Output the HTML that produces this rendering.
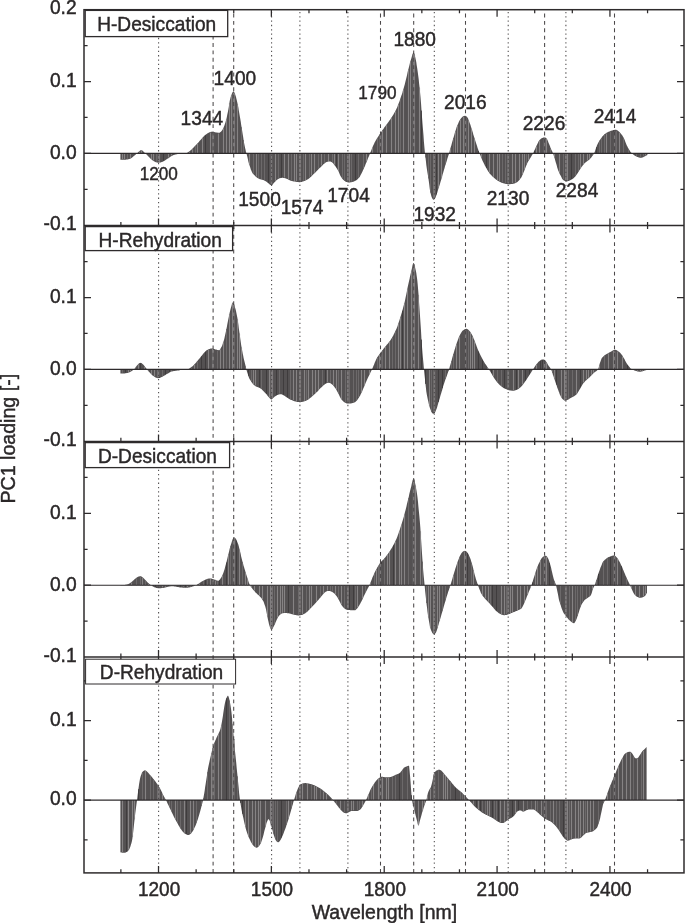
<!DOCTYPE html>
<html lang="en"><head><meta charset="utf-8"><title>PC1 loading</title>
<style>html,body{margin:0;padding:0;background:#fff}svg{display:block}text{stroke:#2b2829;stroke-width:.45px}</style></head>
<body>
<svg width="685" height="923" viewBox="0 0 685 923" font-family="'Liberation Sans', sans-serif" fill="#2b2829">
<rect width="685" height="923" fill="#fff"/>
<path d="M120.4 153.4L120.4 159.8L120.9 159.8L121.4 159.8L121.8 159.8L122.3 159.8L122.8 159.8L123.3 159.8L123.8 159.8L124.2 159.7L124.7 159.7L125.2 159.7L125.7 159.7L126.2 159.6L126.6 159.5L127.1 159.5L127.6 159.4L128.1 159.3L128.6 159.2L129.0 159.1L129.5 158.9L130.0 158.8L130.5 158.6L130.9 158.4L131.4 158.0L131.9 157.7L132.4 157.3L132.9 156.9L133.3 156.4L133.8 156.0L134.3 155.7L134.8 155.3L135.3 154.9L135.7 154.5L136.2 154.0L136.7 153.6L137.2 153.2L137.7 152.8L138.1 152.3L138.6 151.8L139.1 151.4L139.6 150.9L140.1 150.6L140.5 150.3L141.0 150.2L141.5 150.2L142.0 150.4L142.5 150.6L142.9 151.0L143.4 151.4L143.9 151.9L144.4 152.4L144.9 152.9L145.3 153.3L145.8 153.8L146.3 154.3L146.8 154.8L147.3 155.3L147.7 155.8L148.2 156.3L148.7 156.8L149.2 157.3L149.7 157.8L150.1 158.2L150.6 158.7L151.1 159.1L151.6 159.5L152.0 159.9L152.5 160.3L153.0 160.7L153.5 161.0L154.0 161.3L154.4 161.5L154.9 161.8L155.4 162.0L155.9 162.2L156.4 162.3L156.8 162.5L157.3 162.6L157.8 162.7L158.3 162.7L158.8 162.7L159.2 162.6L159.7 162.6L160.2 162.5L160.7 162.4L161.2 162.2L161.6 162.1L162.1 161.9L162.6 161.7L163.1 161.5L163.6 161.3L164.0 161.0L164.5 160.7L165.0 160.4L165.5 160.1L166.0 159.8L166.4 159.5L166.9 159.1L167.4 158.8L167.9 158.5L168.4 158.2L168.8 157.9L169.3 157.5L169.8 157.2L170.3 156.8L170.8 156.5L171.2 156.2L171.7 155.9L172.2 155.7L172.7 155.5L173.1 155.3L173.6 155.1L174.1 154.9L174.6 154.8L175.1 154.6L175.5 154.5L176.0 154.4L176.5 154.3L177.0 154.2L177.5 154.1L177.9 154.1L178.4 154.0L178.9 153.9L179.4 153.9L179.9 153.8L180.3 153.8L180.8 153.7L181.3 153.7L181.8 153.6L182.3 153.6L182.7 153.5L183.2 153.5L183.7 153.5L184.2 153.5L184.7 153.5L185.1 153.4L185.6 153.4L186.1 153.3L186.6 153.1L187.1 152.9L187.5 152.6L188.0 152.3L188.5 151.9L189.0 151.6L189.5 151.2L189.9 150.9L190.4 150.5L190.9 150.1L191.4 149.7L191.8 149.2L192.3 148.8L192.8 148.3L193.3 147.8L193.8 147.3L194.2 146.8L194.7 146.3L195.2 145.8L195.7 145.3L196.2 144.7L196.6 144.2L197.1 143.7L197.6 143.2L198.1 142.7L198.6 142.2L199.0 141.7L199.5 141.1L200.0 140.6L200.5 140.0L201.0 139.5L201.4 138.9L201.9 138.4L202.4 137.8L202.9 137.3L203.4 136.8L203.8 136.3L204.3 135.8L204.8 135.3L205.3 134.9L205.8 134.6L206.2 134.2L206.7 133.9L207.2 133.6L207.7 133.3L208.2 133.0L208.6 132.7L209.1 132.5L209.6 132.2L210.1 132.1L210.6 131.9L211.0 131.8L211.5 131.8L212.0 131.8L212.5 131.8L212.9 131.9L213.4 132.0L213.9 132.1L214.4 132.1L214.9 132.2L215.3 132.3L215.8 132.4L216.3 132.4L216.8 132.5L217.3 132.6L217.7 132.7L218.2 132.7L218.7 132.8L219.2 132.8L219.7 132.7L220.1 132.3L220.6 131.9L221.1 131.4L221.6 130.9L222.1 130.3L222.5 129.7L223.0 128.8L223.5 127.7L224.0 126.6L224.5 125.3L224.9 124.0L225.4 122.5L225.9 120.8L226.4 118.9L226.9 116.8L227.3 114.6L227.8 112.3L228.3 109.8L228.8 106.9L229.3 103.8L229.7 101.1L230.2 98.9L230.7 97.1L231.2 95.5L231.7 94.2L232.1 93.1L232.6 92.3L233.1 91.6L233.6 91.4L234.0 91.8L234.5 92.7L235.0 94.0L235.5 95.4L236.0 96.9L236.4 98.7L236.9 100.7L237.4 102.9L237.9 105.2L238.4 107.7L238.8 110.4L239.3 113.3L239.8 116.2L240.3 119.1L240.8 122.1L241.2 125.0L241.7 128.0L242.2 131.1L242.7 134.2L243.2 137.3L243.6 140.3L244.1 143.0L244.6 145.5L245.1 147.9L245.6 150.0L246.0 151.9L246.5 153.5L247.0 155.4L247.5 157.5L248.0 159.7L248.4 161.7L248.9 163.5L249.4 165.1L249.9 166.6L250.4 168.0L250.8 169.4L251.3 170.6L251.8 171.8L252.3 172.7L252.7 173.5L253.2 174.1L253.7 174.6L254.2 175.1L254.7 175.6L255.1 176.0L255.6 176.5L256.1 176.9L256.6 177.3L257.1 177.7L257.5 178.0L258.0 178.3L258.5 178.6L259.0 178.8L259.5 179.0L259.9 179.2L260.4 179.3L260.9 179.4L261.4 179.6L261.9 179.7L262.3 179.8L262.8 179.9L263.3 180.1L263.8 180.2L264.3 180.4L264.7 180.7L265.2 180.9L265.7 181.2L266.2 181.6L266.7 182.0L267.1 182.3L267.6 182.7L268.1 183.1L268.6 183.5L269.1 183.9L269.5 184.3L270.0 184.7L270.5 185.1L271.0 185.3L271.5 185.4L271.9 185.2L272.4 184.8L272.9 184.2L273.4 183.6L273.8 183.1L274.3 182.6L274.8 182.0L275.3 181.5L275.8 181.0L276.2 180.5L276.7 180.0L277.2 179.7L277.7 179.3L278.2 179.0L278.6 178.7L279.1 178.5L279.6 178.3L280.1 178.2L280.6 178.1L281.0 178.0L281.5 177.9L282.0 177.8L282.5 177.8L283.0 177.8L283.4 177.9L283.9 177.9L284.4 178.1L284.9 178.2L285.4 178.3L285.8 178.5L286.3 178.7L286.8 178.8L287.3 179.0L287.8 179.2L288.2 179.5L288.7 179.7L289.2 180.0L289.7 180.3L290.2 180.5L290.6 180.7L291.1 180.8L291.6 181.0L292.1 181.1L292.6 181.2L293.0 181.3L293.5 181.4L294.0 181.5L294.5 181.6L294.9 181.6L295.4 181.7L295.9 181.8L296.4 181.9L296.9 181.9L297.3 182.0L297.8 182.1L298.3 182.1L298.8 182.2L299.3 182.2L299.7 182.2L300.2 182.2L300.7 182.1L301.2 182.0L301.7 181.9L302.1 181.7L302.6 181.5L303.1 181.4L303.6 181.2L304.1 181.1L304.5 180.9L305.0 180.7L305.5 180.5L306.0 180.3L306.5 180.1L306.9 179.8L307.4 179.6L307.9 179.3L308.4 178.9L308.9 178.6L309.3 178.2L309.8 177.8L310.3 177.3L310.8 176.9L311.3 176.5L311.7 176.0L312.2 175.5L312.7 175.1L313.2 174.6L313.6 174.1L314.1 173.6L314.6 173.2L315.1 172.7L315.6 172.3L316.0 171.8L316.5 171.3L317.0 170.8L317.5 170.3L318.0 169.8L318.4 169.3L318.9 168.8L319.4 168.3L319.9 167.8L320.4 167.4L320.8 166.9L321.3 166.4L321.8 165.9L322.3 165.5L322.8 165.0L323.2 164.6L323.7 164.1L324.2 163.7L324.7 163.3L325.2 162.9L325.6 162.6L326.1 162.3L326.6 162.1L327.1 161.9L327.6 161.7L328.0 161.6L328.5 161.5L329.0 161.4L329.5 161.4L330.0 161.5L330.4 161.6L330.9 161.8L331.4 162.1L331.9 162.3L332.4 162.6L332.8 163.1L333.3 163.6L333.8 164.2L334.3 164.8L334.7 165.5L335.2 166.1L335.7 166.8L336.2 167.4L336.7 168.2L337.1 168.9L337.6 169.7L338.1 170.6L338.6 171.6L339.1 172.7L339.5 173.8L340.0 174.9L340.5 175.9L341.0 176.8L341.5 177.5L341.9 178.2L342.4 178.8L342.9 179.4L343.4 179.9L343.9 180.3L344.3 180.7L344.8 181.0L345.3 181.4L345.8 181.7L346.3 182.0L346.7 182.1L347.2 182.2L347.7 182.3L348.2 182.4L348.7 182.4L349.1 182.4L349.6 182.4L350.1 182.4L350.6 182.3L351.1 182.3L351.5 182.2L352.0 182.0L352.5 181.9L353.0 181.8L353.5 181.7L353.9 181.5L354.4 181.3L354.9 181.0L355.4 180.7L355.8 180.5L356.3 180.2L356.8 179.9L357.3 179.5L357.8 179.1L358.2 178.6L358.7 178.1L359.2 177.5L359.7 176.9L360.2 176.0L360.6 175.1L361.1 174.2L361.6 173.2L362.1 172.2L362.6 171.3L363.0 170.2L363.5 169.2L364.0 168.1L364.5 167.0L365.0 165.9L365.4 164.8L365.9 163.6L366.4 162.4L366.9 161.2L367.4 160.0L367.8 158.8L368.3 157.6L368.8 156.4L369.3 155.2L369.8 154.0L370.2 152.8L370.7 151.7L371.2 150.5L371.7 149.3L372.2 148.1L372.6 147.0L373.1 145.8L373.6 144.7L374.1 143.7L374.5 142.7L375.0 141.7L375.5 140.9L376.0 140.0L376.5 139.2L376.9 138.4L377.4 137.7L377.9 136.9L378.4 136.2L378.9 135.5L379.3 134.8L379.8 134.1L380.3 133.3L380.8 132.6L381.3 131.9L381.7 131.2L382.2 130.5L382.7 129.8L383.2 129.2L383.7 128.5L384.1 127.8L384.6 127.1L385.1 126.5L385.6 125.8L386.1 125.2L386.5 124.6L387.0 123.9L387.5 123.3L388.0 122.6L388.5 122.0L388.9 121.3L389.4 120.6L389.9 120.0L390.4 119.3L390.9 118.5L391.3 117.8L391.8 117.1L392.3 116.3L392.8 115.6L393.3 114.8L393.7 114.0L394.2 113.1L394.7 112.3L395.2 111.4L395.6 110.5L396.1 109.5L396.6 108.5L397.1 107.5L397.6 106.3L398.0 105.1L398.5 103.8L399.0 102.5L399.5 101.2L400.0 99.8L400.4 98.4L400.9 97.0L401.4 95.6L401.9 94.2L402.4 92.7L402.8 91.1L403.3 89.5L403.8 87.8L404.3 86.1L404.8 84.3L405.2 82.5L405.7 80.5L406.2 78.5L406.7 76.4L407.2 74.3L407.6 72.3L408.1 70.3L408.6 68.4L409.1 66.5L409.6 64.6L410.0 62.8L410.5 61.1L411.0 59.4L411.5 57.8L412.0 56.1L412.4 54.6L412.9 53.3L413.4 52.5L413.9 52.5L414.3 53.6L414.8 55.5L415.3 57.6L415.8 59.7L416.3 62.3L416.7 65.2L417.2 68.3L417.7 71.7L418.2 75.4L418.7 79.3L419.1 83.5L419.6 88.1L420.1 92.9L420.6 98.3L421.1 104.3L421.5 110.6L422.0 117.1L422.5 123.5L423.0 129.6L423.5 135.5L423.9 141.5L424.4 147.2L424.9 152.4L425.4 156.9L425.9 161.1L426.3 164.9L426.8 168.5L427.3 171.8L427.8 174.7L428.3 177.6L428.7 180.6L429.2 184.2L429.7 188.6L430.2 191.7L430.7 193.7L431.1 195.3L431.6 196.9L432.1 198.1L432.6 199.0L433.1 199.5L433.5 199.8L434.0 199.6L434.5 199.2L435.0 198.6L435.4 197.7L435.9 196.6L436.4 195.3L436.9 193.8L437.4 192.3L437.8 190.7L438.3 189.1L438.8 187.6L439.3 186.0L439.8 184.5L440.2 182.9L440.7 181.3L441.2 179.7L441.7 178.0L442.2 176.3L442.6 174.6L443.1 172.9L443.6 171.2L444.1 169.5L444.6 167.9L445.0 166.3L445.5 164.8L446.0 163.2L446.5 161.7L447.0 160.1L447.4 158.6L447.9 157.0L448.4 155.4L448.9 153.8L449.4 152.2L449.8 150.5L450.3 148.8L450.8 147.1L451.3 145.4L451.8 143.6L452.2 141.9L452.7 140.2L453.2 138.5L453.7 136.9L454.2 135.3L454.6 133.7L455.1 132.1L455.6 130.5L456.1 129.0L456.5 127.6L457.0 126.3L457.5 125.1L458.0 123.9L458.5 122.7L458.9 121.7L459.4 120.7L459.9 119.9L460.4 119.2L460.9 118.6L461.3 117.9L461.8 117.4L462.3 116.9L462.8 116.5L463.3 116.3L463.7 116.1L464.2 115.9L464.7 115.8L465.2 115.8L465.7 115.9L466.1 116.2L466.6 116.6L467.1 117.0L467.6 117.7L468.1 118.6L468.5 119.8L469.0 121.0L469.5 122.4L470.0 123.7L470.5 125.1L470.9 126.5L471.4 128.0L471.9 129.6L472.4 131.2L472.9 132.8L473.3 134.4L473.8 136.0L474.3 137.6L474.8 139.1L475.2 140.6L475.7 142.0L476.2 143.5L476.7 145.0L477.2 146.5L477.6 147.9L478.1 149.3L478.6 150.7L479.1 152.0L479.6 153.3L480.0 154.6L480.5 155.8L481.0 157.0L481.5 158.2L482.0 159.4L482.4 160.5L482.9 161.6L483.4 162.6L483.9 163.6L484.4 164.5L484.8 165.4L485.3 166.3L485.8 167.3L486.3 168.1L486.8 169.0L487.2 169.8L487.7 170.6L488.2 171.4L488.7 172.1L489.2 172.8L489.6 173.4L490.1 173.9L490.6 174.4L491.1 175.0L491.6 175.5L492.0 175.9L492.5 176.4L493.0 176.9L493.5 177.3L494.0 177.8L494.4 178.2L494.9 178.6L495.4 179.0L495.9 179.4L496.3 179.7L496.8 180.1L497.3 180.4L497.8 180.7L498.3 181.0L498.7 181.2L499.2 181.5L499.7 181.8L500.2 182.0L500.7 182.3L501.1 182.5L501.6 182.7L502.1 182.9L502.6 183.1L503.1 183.2L503.5 183.3L504.0 183.5L504.5 183.6L505.0 183.7L505.5 183.8L505.9 183.9L506.4 184.0L506.9 184.1L507.4 184.2L507.9 184.2L508.3 184.2L508.8 184.2L509.3 184.2L509.8 184.2L510.3 184.2L510.7 184.1L511.2 184.1L511.7 184.0L512.2 184.0L512.7 183.9L513.1 183.8L513.6 183.7L514.1 183.5L514.6 183.4L515.1 183.2L515.5 183.0L516.0 182.8L516.5 182.6L517.0 182.3L517.4 181.9L517.9 181.5L518.4 181.0L518.9 180.5L519.4 179.9L519.8 179.3L520.3 178.7L520.8 178.1L521.3 177.4L521.8 176.5L522.2 175.5L522.7 174.4L523.2 173.3L523.7 172.1L524.2 171.0L524.6 169.8L525.1 168.5L525.6 167.2L526.1 166.0L526.6 164.8L527.0 163.7L527.5 162.8L528.0 161.8L528.5 161.0L529.0 160.2L529.4 159.4L529.9 158.6L530.4 157.9L530.9 157.1L531.4 156.3L531.8 155.5L532.3 154.7L532.8 153.8L533.3 152.9L533.8 151.8L534.2 150.8L534.7 149.7L535.2 148.7L535.7 147.6L536.1 146.6L536.6 145.5L537.1 144.4L537.6 143.4L538.1 142.4L538.5 141.5L539.0 140.8L539.5 140.2L540.0 139.6L540.5 139.2L540.9 138.8L541.4 138.4L541.9 138.1L542.4 137.9L542.9 137.8L543.3 137.6L543.8 137.5L544.3 137.4L544.8 137.4L545.3 137.6L545.7 137.8L546.2 138.2L546.7 138.6L547.2 139.4L547.7 140.4L548.1 141.6L548.6 142.9L549.1 144.0L549.6 145.2L550.1 146.5L550.5 147.7L551.0 148.9L551.5 150.0L552.0 151.0L552.5 152.1L552.9 153.2L553.4 154.6L553.9 156.0L554.4 157.6L554.9 159.2L555.3 160.8L555.8 162.4L556.3 164.1L556.8 165.8L557.2 167.5L557.7 169.0L558.2 170.4L558.7 171.6L559.2 172.7L559.6 173.7L560.1 174.7L560.6 175.6L561.1 176.6L561.6 177.6L562.0 178.5L562.5 179.3L563.0 179.8L563.5 180.2L564.0 180.5L564.4 180.8L564.9 181.1L565.4 181.2L565.9 181.4L566.4 181.4L566.8 181.4L567.3 181.3L567.8 181.2L568.3 181.0L568.8 180.9L569.2 180.7L569.7 180.5L570.2 180.3L570.7 180.1L571.2 179.8L571.6 179.5L572.1 179.2L572.6 178.9L573.1 178.5L573.6 178.2L574.0 177.8L574.5 177.3L575.0 176.8L575.5 176.2L576.0 175.6L576.4 174.9L576.9 174.2L577.4 173.6L577.9 172.9L578.3 172.1L578.8 171.3L579.3 170.5L579.8 169.7L580.3 168.9L580.7 168.2L581.2 167.5L581.7 166.8L582.2 166.2L582.7 165.6L583.1 165.0L583.6 164.4L584.1 163.8L584.6 163.3L585.1 162.8L585.5 162.4L586.0 162.0L586.5 161.7L587.0 161.3L587.5 161.0L587.9 160.7L588.4 160.3L588.9 159.9L589.4 159.4L589.9 159.0L590.3 158.5L590.8 157.9L591.3 157.4L591.8 156.8L592.3 156.1L592.7 155.4L593.2 154.7L593.7 153.9L594.2 153.1L594.7 152.0L595.1 150.7L595.6 149.2L596.1 147.8L596.6 146.4L597.0 145.3L597.5 144.3L598.0 143.3L598.5 142.3L599.0 141.5L599.4 140.6L599.9 139.9L600.4 139.2L600.9 138.5L601.4 137.9L601.8 137.2L602.3 136.5L602.8 135.9L603.3 135.4L603.8 134.9L604.2 134.4L604.7 134.0L605.2 133.7L605.7 133.4L606.2 133.1L606.6 132.8L607.1 132.5L607.6 132.3L608.1 132.0L608.6 131.8L609.0 131.6L609.5 131.4L610.0 131.2L610.5 131.0L611.0 130.8L611.4 130.7L611.9 130.5L612.4 130.4L612.9 130.2L613.4 130.1L613.8 130.0L614.3 129.9L614.8 129.8L615.3 129.8L615.8 129.8L616.2 129.8L616.7 130.0L617.2 130.2L617.7 130.5L618.1 130.9L618.6 131.3L619.1 131.8L619.6 132.3L620.1 132.8L620.5 133.3L621.0 133.8L621.5 134.4L622.0 135.0L622.5 135.7L622.9 136.5L623.4 137.3L623.9 138.2L624.4 139.2L624.9 140.4L625.3 141.7L625.8 143.0L626.3 144.2L626.8 145.4L627.3 146.3L627.7 147.2L628.2 148.1L628.7 148.9L629.2 149.7L629.7 150.5L630.1 151.2L630.6 151.9L631.1 152.5L631.6 153.0L632.1 153.4L632.5 153.9L633.0 154.3L633.5 154.7L634.0 155.0L634.5 155.4L634.9 155.7L635.4 156.0L635.9 156.3L636.4 156.5L636.9 156.7L637.3 156.9L637.8 157.1L638.3 157.3L638.8 157.5L639.2 157.6L639.7 157.7L640.2 157.8L640.7 157.8L641.2 157.8L641.6 157.7L642.1 157.6L642.6 157.4L643.1 157.2L643.6 157.0L644.0 156.8L644.5 156.6L645.0 156.3L645.5 156.1L646.0 155.8L646.4 155.6L646.9 155.2L647.4 154.9L647.4 153.4Z" fill="#545152"/>
<path d="M122.5 153.4V159.2M124.5 153.4V159.1M130.5 153.4V158.0M135.5 153.4V154.1M139.5 153.4V151.6M141.5 153.4V150.8M151.5 153.4V158.9M153.5 153.4V160.4M159.5 153.4V162.0M168.5 153.4V157.5M171.5 153.4V155.5M174.5 153.4V154.2M189.5 153.4V151.8M192.5 153.4V149.2M197.5 153.4V143.9M202.5 153.4V138.3M210.5 153.4V132.5M213.5 153.4V132.6M218.5 153.4V133.4M223.5 153.4V128.3M226.5 153.4V119.0M229.5 153.4V102.9M231.5 153.4V95.1M234.5 153.4V93.3M237.5 153.4V104.0M249.5 153.4V164.8M256.5 153.4V176.6M275.5 153.4V180.7M284.5 153.4V177.5M288.5 153.4V179.0M294.5 153.4V181.0M296.5 153.4V181.3M300.5 153.4V181.6M305.5 153.4V179.9M311.5 153.4V175.6M314.5 153.4V172.7M321.5 153.4V165.6M328.5 153.4V160.9M334.5 153.4V164.5M338.5 153.4V170.8M349.5 153.4V181.8M366.5 153.4V161.6M369.5 153.4V154.0M372.5 153.4V147.9M382.5 153.4V130.7M386.5 153.4V125.2M391.5 153.4V118.2M395.5 153.4V111.4M398.5 153.4V104.5M403.5 153.4V89.5M408.5 153.4V69.4M410.5 153.4V61.7M414.5 153.4V54.7M419.5 153.4V87.5M438.5 153.4V188.0M441.5 153.4V178.1M450.5 153.4V148.7M455.5 153.4V131.4M457.5 153.4V125.7M460.5 153.4V119.7M463.5 153.4V116.8M468.5 153.4V120.3M471.5 153.4V128.9M474.5 153.4V138.8M481.5 153.4V157.7M489.5 153.4V172.6M493.5 153.4V176.8M497.5 153.4V179.9M499.5 153.4V181.1M512.5 153.4V183.3M515.5 153.4V182.4M519.5 153.4V179.2M522.5 153.4V174.4M524.5 153.4V169.6M528.5 153.4V160.4M536.5 153.4V146.4M539.5 153.4V140.8M546.5 153.4V139.0M554.5 153.4V157.4M559.5 153.4V172.8M567.5 153.4V180.6M580.5 153.4V167.9M583.5 153.4V163.9M587.5 153.4V160.4M589.5 153.4V158.7M606.5 153.4V133.5M619.5 153.4V132.8M645.5 153.4V155.5" stroke="#868384" stroke-width="1.1" fill="none"/>
<path d="M127.5 153.4V158.8M156.5 153.4V161.8M195.5 153.4V146.1M241.5 153.4V127.3M243.5 153.4V140.1M253.5 153.4V173.8M258.5 153.4V178.0M261.5 153.4V179.0M264.5 153.4V179.9M278.5 153.4V178.2M291.5 153.4V180.3M303.5 153.4V180.6M309.5 153.4V177.4M318.5 153.4V168.7M324.5 153.4V162.9M332.5 153.4V162.2M342.5 153.4V178.3M344.5 153.4V180.2M347.5 153.4V181.7M351.5 153.4V181.6M358.5 153.4V177.8M363.5 153.4V168.6M377.5 153.4V138.2M380.5 153.4V133.7M400.5 153.4V98.9M425.5 153.4V157.4M428.5 153.4V178.4M430.5 153.4V192.5M433.5 153.4V199.2M445.5 153.4V164.2M448.5 153.4V154.5M453.5 153.4V138.1M465.5 153.4V116.5M502.5 153.4V182.5M505.5 153.4V183.2M508.5 153.4V183.6M526.5 153.4V164.3M544.5 153.4V138.0M550.5 153.4V148.2M563.5 153.4V179.6M575.5 153.4V175.6M578.5 153.4V171.3M592.5 153.4V155.2M599.5 153.4V141.2M601.5 153.4V138.3M604.5 153.4V134.8M610.5 153.4V131.6M616.5 153.4V130.5M623.5 153.4V138.1M628.5 153.4V149.2M636.5 153.4V156.0M640.5 153.4V157.2M643.5 153.4V156.5" stroke="#6c696a" stroke-width="1" fill="none"/>
<path d="M163.5 153.4V160.7M205.5 153.4V135.4M268.5 153.4V182.8M272.5 153.4V184.1M281.5 153.4V177.3M336.5 153.4V167.3M355.5 153.4V180.1M421.5 153.4V110.6M436.5 153.4V194.4M478.5 153.4V151.0M486.5 153.4V167.9M534.5 153.4V150.8M571.5 153.4V179.0M596.5 153.4V147.2M613.5 153.4V130.7" stroke="#3a3738" stroke-width="0.8" fill="none"/>
<path d="M120.4 369.4L120.4 373.4L120.9 373.4L121.4 373.4L121.8 373.4L122.3 373.4L122.8 373.4L123.3 373.4L123.8 373.4L124.2 373.4L124.7 373.4L125.2 373.3L125.7 373.2L126.2 373.2L126.6 373.1L127.1 373.0L127.6 372.9L128.1 372.8L128.6 372.6L129.0 372.4L129.5 372.2L130.0 372.0L130.5 371.7L130.9 371.4L131.4 371.2L131.9 370.9L132.4 370.6L132.9 370.3L133.3 369.9L133.8 369.5L134.3 369.1L134.8 368.5L135.3 367.8L135.7 367.1L136.2 366.4L136.7 365.7L137.2 365.2L137.7 364.7L138.1 364.2L138.6 363.7L139.1 363.3L139.6 363.0L140.1 362.9L140.5 362.8L141.0 362.9L141.5 363.1L142.0 363.5L142.5 363.9L142.9 364.3L143.4 364.8L143.9 365.3L144.4 365.9L144.9 366.5L145.3 367.2L145.8 367.8L146.3 368.5L146.8 369.1L147.3 369.7L147.7 370.3L148.2 370.9L148.7 371.4L149.2 372.0L149.7 372.5L150.1 373.0L150.6 373.6L151.1 374.1L151.6 374.6L152.0 375.0L152.5 375.4L153.0 375.8L153.5 376.1L154.0 376.5L154.4 376.8L154.9 377.1L155.4 377.4L155.9 377.6L156.4 377.8L156.8 378.0L157.3 378.1L157.8 378.2L158.3 378.2L158.8 378.1L159.2 378.0L159.7 377.9L160.2 377.7L160.7 377.5L161.2 377.3L161.6 377.1L162.1 376.9L162.6 376.6L163.1 376.3L163.6 376.1L164.0 375.8L164.5 375.5L165.0 375.2L165.5 374.9L166.0 374.6L166.4 374.3L166.9 374.0L167.4 373.7L167.9 373.5L168.4 373.2L168.8 372.9L169.3 372.6L169.8 372.4L170.3 372.1L170.8 371.8L171.2 371.6L171.7 371.5L172.2 371.4L172.7 371.3L173.1 371.2L173.6 371.1L174.1 371.0L174.6 370.9L175.1 370.9L175.5 370.8L176.0 370.7L176.5 370.7L177.0 370.6L177.5 370.5L177.9 370.5L178.4 370.4L178.9 370.4L179.4 370.3L179.9 370.2L180.3 370.1L180.8 370.1L181.3 370.0L181.8 369.9L182.3 369.9L182.7 369.8L183.2 369.8L183.7 369.7L184.2 369.6L184.7 369.6L185.1 369.5L185.6 369.4L186.1 369.3L186.6 369.3L187.1 369.2L187.5 369.1L188.0 369.0L188.5 368.9L189.0 368.7L189.5 368.4L189.9 368.1L190.4 367.8L190.9 367.5L191.4 367.1L191.8 366.8L192.3 366.4L192.8 366.0L193.3 365.5L193.8 365.0L194.2 364.5L194.7 364.0L195.2 363.5L195.7 363.0L196.2 362.4L196.6 361.8L197.1 361.3L197.6 360.7L198.1 360.1L198.6 359.5L199.0 358.9L199.5 358.4L200.0 357.8L200.5 357.2L201.0 356.6L201.4 356.0L201.9 355.4L202.4 354.8L202.9 354.2L203.4 353.6L203.8 353.0L204.3 352.4L204.8 351.9L205.3 351.4L205.8 351.0L206.2 350.6L206.7 350.3L207.2 350.0L207.7 349.7L208.2 349.4L208.6 349.2L209.1 349.1L209.6 348.9L210.1 348.7L210.6 348.6L211.0 348.4L211.5 348.4L212.0 348.4L212.5 348.5L212.9 348.6L213.4 348.7L213.9 348.9L214.4 349.1L214.9 349.2L215.3 349.4L215.8 349.5L216.3 349.6L216.8 349.8L217.3 349.9L217.7 350.0L218.2 350.1L218.7 350.2L219.2 350.2L219.7 349.9L220.1 349.3L220.6 348.5L221.1 347.6L221.6 346.8L222.1 345.7L222.5 344.5L223.0 343.1L223.5 341.5L224.0 339.9L224.5 338.0L224.9 336.0L225.4 333.7L225.9 331.4L226.4 329.0L226.9 326.7L227.3 324.2L227.8 321.7L228.3 319.2L228.8 316.9L229.3 314.6L229.7 312.5L230.2 310.4L230.7 308.5L231.2 306.8L231.7 305.1L232.1 303.6L232.6 302.5L233.1 302.2L233.6 302.8L234.0 304.1L234.5 305.8L235.0 307.4L235.5 309.1L236.0 311.0L236.4 313.1L236.9 315.4L237.4 318.1L237.9 321.3L238.4 324.8L238.8 328.3L239.3 331.7L239.8 335.3L240.3 338.9L240.8 342.3L241.2 345.3L241.7 348.1L242.2 350.8L242.7 353.4L243.2 355.8L243.6 358.0L244.1 360.1L244.6 362.1L245.1 364.1L245.6 366.0L246.0 367.9L246.5 370.0L247.0 371.8L247.5 373.3L248.0 374.8L248.4 376.2L248.9 377.5L249.4 378.7L249.9 379.6L250.4 380.3L250.8 381.1L251.3 381.8L251.8 382.4L252.3 383.1L252.7 383.7L253.2 384.2L253.7 384.7L254.2 385.2L254.7 385.6L255.1 385.9L255.6 386.2L256.1 386.4L256.6 386.7L257.1 386.9L257.5 387.1L258.0 387.2L258.5 387.4L259.0 387.6L259.5 387.9L259.9 388.1L260.4 388.4L260.9 388.7L261.4 389.1L261.9 389.5L262.3 390.0L262.8 390.4L263.3 390.9L263.8 391.4L264.3 391.9L264.7 392.4L265.2 392.9L265.7 393.5L266.2 394.0L266.7 394.6L267.1 395.2L267.6 395.8L268.1 396.4L268.6 396.9L269.1 397.5L269.5 398.0L270.0 398.6L270.5 399.0L271.0 399.4L271.5 399.4L271.9 399.2L272.4 398.7L272.9 398.3L273.4 397.8L273.8 397.4L274.3 397.0L274.8 396.6L275.3 396.3L275.8 395.9L276.2 395.7L276.7 395.4L277.2 395.1L277.7 394.9L278.2 394.7L278.6 394.6L279.1 394.4L279.6 394.3L280.1 394.2L280.6 394.2L281.0 394.2L281.5 394.3L282.0 394.5L282.5 394.7L283.0 395.0L283.4 395.2L283.9 395.5L284.4 395.8L284.9 396.1L285.4 396.4L285.8 396.7L286.3 397.0L286.8 397.4L287.3 397.7L287.8 398.0L288.2 398.4L288.7 398.6L289.2 398.9L289.7 399.2L290.2 399.4L290.6 399.7L291.1 399.9L291.6 400.1L292.1 400.3L292.6 400.6L293.0 400.8L293.5 400.9L294.0 401.1L294.5 401.3L294.9 401.4L295.4 401.5L295.9 401.6L296.4 401.7L296.9 401.8L297.3 401.9L297.8 402.0L298.3 402.1L298.8 402.1L299.3 402.2L299.7 402.2L300.2 402.2L300.7 402.2L301.2 402.1L301.7 402.0L302.1 401.9L302.6 401.8L303.1 401.7L303.6 401.6L304.1 401.5L304.5 401.3L305.0 401.1L305.5 400.9L306.0 400.7L306.5 400.5L306.9 400.2L307.4 400.0L307.9 399.7L308.4 399.4L308.9 399.0L309.3 398.7L309.8 398.3L310.3 398.0L310.8 397.6L311.3 397.2L311.7 396.7L312.2 396.3L312.7 395.9L313.2 395.5L313.6 395.0L314.1 394.6L314.6 394.2L315.1 393.7L315.6 393.3L316.0 392.8L316.5 392.3L317.0 391.9L317.5 391.4L318.0 390.9L318.4 390.4L318.9 389.8L319.4 389.3L319.9 388.8L320.4 388.3L320.8 387.8L321.3 387.4L321.8 386.9L322.3 386.4L322.8 386.0L323.2 385.6L323.7 385.2L324.2 384.8L324.7 384.4L325.2 384.1L325.6 383.8L326.1 383.5L326.6 383.3L327.1 383.1L327.6 383.0L328.0 382.9L328.5 382.8L329.0 382.8L329.5 382.9L330.0 383.1L330.4 383.3L330.9 383.6L331.4 384.0L331.9 384.3L332.4 384.7L332.8 385.1L333.3 385.6L333.8 386.2L334.3 386.8L334.7 387.5L335.2 388.1L335.7 388.8L336.2 389.6L336.7 390.5L337.1 391.3L337.6 392.2L338.1 393.1L338.6 394.0L339.1 395.1L339.5 396.1L340.0 397.1L340.5 398.0L341.0 398.8L341.5 399.4L341.9 400.1L342.4 400.6L342.9 401.1L343.4 401.6L343.9 401.9L344.3 402.2L344.8 402.5L345.3 402.8L345.8 403.0L346.3 403.2L346.7 403.4L347.2 403.4L347.7 403.5L348.2 403.5L348.7 403.5L349.1 403.5L349.6 403.5L350.1 403.5L350.6 403.4L351.1 403.4L351.5 403.3L352.0 403.2L352.5 403.1L353.0 403.0L353.5 402.8L353.9 402.6L354.4 402.5L354.9 402.2L355.4 402.0L355.8 401.6L356.3 401.1L356.8 400.5L357.3 399.9L357.8 399.2L358.2 398.6L358.7 397.9L359.2 397.1L359.7 396.3L360.2 395.4L360.6 394.5L361.1 393.6L361.6 392.5L362.1 391.5L362.6 390.3L363.0 389.2L363.5 388.0L364.0 386.9L364.5 385.8L365.0 384.6L365.4 383.5L365.9 382.3L366.4 381.2L366.9 380.1L367.4 379.0L367.8 378.0L368.3 377.0L368.8 376.0L369.3 375.0L369.8 374.1L370.2 373.1L370.7 372.1L371.2 371.1L371.7 370.1L372.2 369.1L372.6 368.0L373.1 366.8L373.6 365.6L374.1 364.4L374.5 363.2L375.0 362.0L375.5 360.9L376.0 359.8L376.5 358.8L376.9 357.9L377.4 357.1L377.9 356.4L378.4 355.7L378.9 355.0L379.3 354.4L379.8 353.8L380.3 353.2L380.8 352.5L381.3 351.9L381.7 351.2L382.2 350.6L382.7 349.9L383.2 349.3L383.7 348.6L384.1 348.0L384.6 347.4L385.1 346.8L385.6 346.2L386.1 345.7L386.5 345.1L387.0 344.6L387.5 344.0L388.0 343.4L388.5 342.8L388.9 342.2L389.4 341.6L389.9 340.9L390.4 340.3L390.9 339.5L391.3 338.8L391.8 338.0L392.3 337.2L392.8 336.3L393.3 335.5L393.7 334.5L394.2 333.6L394.7 332.6L395.2 331.6L395.6 330.6L396.1 329.5L396.6 328.4L397.1 327.2L397.6 325.9L398.0 324.5L398.5 323.1L399.0 321.6L399.5 320.1L400.0 318.5L400.4 317.0L400.9 315.4L401.4 313.8L401.9 312.2L402.4 310.6L402.8 308.9L403.3 307.1L403.8 305.3L404.3 303.4L404.8 301.4L405.2 299.4L405.7 297.1L406.2 294.8L406.7 292.3L407.2 289.9L407.6 287.5L408.1 285.3L408.6 283.0L409.1 280.8L409.6 278.7L410.0 276.5L410.5 274.5L411.0 272.4L411.5 270.3L412.0 268.1L412.4 265.9L412.9 264.2L413.4 263.0L413.9 262.9L414.3 264.2L414.8 266.3L415.3 268.4L415.8 270.6L416.3 273.1L416.7 276.1L417.2 279.6L417.7 284.6L418.2 290.4L418.7 296.5L419.1 303.2L419.6 310.3L420.1 317.3L420.6 324.7L421.1 332.2L421.5 339.7L422.0 346.7L422.5 353.1L423.0 358.7L423.5 363.9L423.9 368.8L424.4 373.7L424.9 378.6L425.4 383.3L425.9 387.7L426.3 391.4L426.8 394.4L427.3 397.1L427.8 399.4L428.3 401.5L428.7 403.5L429.2 405.4L429.7 407.2L430.2 408.7L430.7 410.1L431.1 411.2L431.6 412.2L432.1 412.9L432.6 413.4L433.1 413.6L433.5 413.8L434.0 413.7L434.5 413.3L435.0 412.5L435.4 411.5L435.9 410.4L436.4 409.2L436.9 407.9L437.4 406.3L437.8 404.7L438.3 403.1L438.8 401.5L439.3 399.8L439.8 398.2L440.2 396.5L440.7 394.8L441.2 393.2L441.7 391.6L442.2 389.9L442.6 388.3L443.1 386.6L443.6 385.1L444.1 383.5L444.6 382.1L445.0 380.7L445.5 379.3L446.0 378.0L446.5 376.7L447.0 375.4L447.4 374.0L447.9 372.7L448.4 371.3L448.9 369.8L449.4 368.2L449.8 366.6L450.3 365.0L450.8 363.2L451.3 361.5L451.8 359.8L452.2 358.0L452.7 356.3L453.2 354.6L453.7 352.9L454.2 351.3L454.6 349.7L455.1 348.2L455.6 346.6L456.1 345.1L456.5 343.7L457.0 342.3L457.5 341.0L458.0 339.6L458.5 338.3L458.9 337.1L459.4 336.0L459.9 335.0L460.4 334.1L460.9 333.2L461.3 332.4L461.8 331.7L462.3 331.1L462.8 330.6L463.3 330.2L463.7 329.9L464.2 329.5L464.7 329.2L465.2 329.0L465.7 328.9L466.1 328.8L466.6 328.8L467.1 329.0L467.6 329.3L468.1 329.6L468.5 330.0L469.0 330.4L469.5 330.9L470.0 331.5L470.5 332.2L470.9 332.9L471.4 333.7L471.9 334.6L472.4 335.5L472.9 336.6L473.3 337.7L473.8 338.9L474.3 340.1L474.8 341.3L475.2 342.5L475.7 343.8L476.2 345.1L476.7 346.4L477.2 347.7L477.6 349.0L478.1 350.1L478.6 351.2L479.1 352.2L479.6 353.3L480.0 354.3L480.5 355.3L481.0 356.3L481.5 357.2L482.0 358.1L482.4 359.0L482.9 359.9L483.4 360.8L483.9 361.6L484.4 362.4L484.8 363.2L485.3 363.9L485.8 364.6L486.3 365.3L486.8 366.1L487.2 366.7L487.7 367.5L488.2 368.2L488.7 368.9L489.2 369.6L489.6 370.4L490.1 371.2L490.6 372.1L491.1 372.9L491.6 373.8L492.0 374.6L492.5 375.4L493.0 376.3L493.5 377.1L494.0 377.9L494.4 378.6L494.9 379.3L495.4 380.0L495.9 380.6L496.3 381.2L496.8 381.8L497.3 382.4L497.8 382.9L498.3 383.4L498.7 383.9L499.2 384.4L499.7 384.9L500.2 385.4L500.7 385.8L501.1 386.2L501.6 386.6L502.1 387.0L502.6 387.3L503.1 387.7L503.5 388.0L504.0 388.2L504.5 388.5L505.0 388.7L505.5 388.9L505.9 389.1L506.4 389.3L506.9 389.5L507.4 389.7L507.9 389.9L508.3 390.0L508.8 390.2L509.3 390.3L509.8 390.4L510.3 390.5L510.7 390.6L511.2 390.6L511.7 390.7L512.2 390.8L512.7 390.8L513.1 390.8L513.6 390.8L514.1 390.7L514.6 390.6L515.1 390.4L515.5 390.3L516.0 390.1L516.5 389.9L517.0 389.7L517.4 389.5L517.9 389.3L518.4 389.0L518.9 388.6L519.4 388.2L519.8 387.8L520.3 387.4L520.8 387.0L521.3 386.5L521.8 386.0L522.2 385.5L522.7 384.9L523.2 384.3L523.7 383.6L524.2 383.0L524.6 382.3L525.1 381.6L525.6 380.9L526.1 380.2L526.6 379.4L527.0 378.7L527.5 378.0L528.0 377.3L528.5 376.6L529.0 375.8L529.4 375.1L529.9 374.3L530.4 373.5L530.9 372.8L531.4 372.0L531.8 371.2L532.3 370.5L532.8 369.7L533.3 369.0L533.8 368.2L534.2 367.5L534.7 366.7L535.2 366.0L535.7 365.3L536.1 364.7L536.6 364.1L537.1 363.4L537.6 362.9L538.1 362.3L538.5 361.8L539.0 361.4L539.5 361.0L540.0 360.7L540.5 360.3L540.9 360.1L541.4 359.8L541.9 359.6L542.4 359.5L542.9 359.4L543.3 359.4L543.8 359.5L544.3 359.7L544.8 360.1L545.3 360.6L545.7 361.1L546.2 361.7L546.7 362.4L547.2 363.3L547.7 364.2L548.1 365.0L548.6 365.7L549.1 366.4L549.6 367.1L550.1 367.8L550.5 368.5L551.0 369.4L551.5 370.5L552.0 371.8L552.5 373.2L552.9 374.7L553.4 376.1L553.9 377.5L554.4 379.0L554.9 380.4L555.3 381.8L555.8 383.2L556.3 384.6L556.8 386.0L557.2 387.4L557.7 388.8L558.2 390.1L558.7 391.4L559.2 392.6L559.6 393.9L560.1 395.0L560.6 396.1L561.1 396.9L561.6 397.7L562.0 398.4L562.5 399.0L563.0 399.4L563.5 399.8L564.0 400.2L564.4 400.5L564.9 400.7L565.4 400.8L565.9 400.7L566.4 400.5L566.8 400.3L567.3 400.1L567.8 399.8L568.3 399.5L568.8 399.2L569.2 398.9L569.7 398.6L570.2 398.3L570.7 398.0L571.2 397.7L571.6 397.4L572.1 397.2L572.6 397.0L573.1 396.7L573.6 396.5L574.0 396.2L574.5 395.9L575.0 395.6L575.5 395.2L576.0 394.8L576.4 394.4L576.9 393.9L577.4 393.3L577.9 392.6L578.3 391.8L578.8 391.0L579.3 390.1L579.8 389.3L580.3 388.4L580.7 387.6L581.2 386.7L581.7 385.9L582.2 385.1L582.7 384.3L583.1 383.6L583.6 383.0L584.1 382.4L584.6 381.9L585.1 381.3L585.5 380.8L586.0 380.4L586.5 379.9L587.0 379.5L587.5 379.1L587.9 378.7L588.4 378.3L588.9 377.9L589.4 377.4L589.9 377.0L590.3 376.5L590.8 376.0L591.3 375.5L591.8 375.0L592.3 374.5L592.7 374.1L593.2 373.6L593.7 373.1L594.2 372.6L594.7 372.2L595.1 371.9L595.6 371.6L596.1 371.3L596.6 370.9L597.0 370.5L597.5 370.0L598.0 369.4L598.5 368.3L599.0 366.6L599.4 364.8L599.9 363.1L600.4 361.7L600.9 360.3L601.4 359.0L601.8 358.0L602.3 357.4L602.8 356.9L603.3 356.5L603.8 356.0L604.2 355.6L604.7 355.3L605.2 354.9L605.7 354.6L606.2 354.3L606.6 354.0L607.1 353.7L607.6 353.5L608.1 353.2L608.6 352.9L609.0 352.6L609.5 352.4L610.0 352.1L610.5 351.9L611.0 351.6L611.4 351.4L611.9 351.1L612.4 350.8L612.9 350.6L613.4 350.3L613.8 350.1L614.3 350.0L614.8 349.8L615.3 349.8L615.8 349.9L616.2 350.0L616.7 350.3L617.2 350.6L617.7 350.9L618.1 351.2L618.6 351.5L619.1 351.9L619.6 352.3L620.1 352.8L620.5 353.3L621.0 353.8L621.5 354.4L622.0 355.1L622.5 355.8L622.9 356.6L623.4 357.4L623.9 358.2L624.4 359.1L624.9 360.0L625.3 360.9L625.8 361.8L626.3 362.7L626.8 363.5L627.3 364.2L627.7 364.8L628.2 365.5L628.7 366.1L629.2 366.8L629.7 367.3L630.1 367.9L630.6 368.4L631.1 368.8L631.6 369.1L632.1 369.4L632.5 369.7L633.0 369.9L633.5 370.1L634.0 370.3L634.5 370.5L634.9 370.7L635.4 370.8L635.9 371.0L636.4 371.1L636.9 371.2L637.3 371.4L637.8 371.5L638.3 371.6L638.8 371.7L639.2 371.8L639.7 371.8L640.2 371.8L640.7 371.7L641.2 371.6L641.6 371.5L642.1 371.4L642.6 371.2L643.1 371.1L643.6 370.9L644.0 370.8L644.5 370.6L645.0 370.5L645.5 370.3L646.0 370.2L646.4 370.0L646.9 369.9L647.4 369.7L647.4 369.4Z" fill="#545152"/>
<path d="M128.5 369.4V372.1M130.5 369.4V371.1M138.5 369.4V364.5M144.5 369.4V366.7M148.5 369.4V370.6M151.5 369.4V373.9M154.5 369.4V376.2M176.5 369.4V370.1M194.5 369.4V364.9M208.5 369.4V349.9M212.5 369.4V349.1M220.5 369.4V349.3M223.5 369.4V342.1M229.5 369.4V314.1M232.5 369.4V303.3M237.5 369.4V319.3M239.5 369.4V333.6M241.5 369.4V347.4M253.5 369.4V383.9M255.5 369.4V385.5M269.5 369.4V397.4M272.5 369.4V398.1M293.5 369.4V400.3M296.5 369.4V401.2M300.5 369.4V401.6M304.5 369.4V400.7M308.5 369.4V398.7M312.5 369.4V395.5M315.5 369.4V392.7M318.5 369.4V389.7M327.5 369.4V382.4M333.5 369.4V385.3M336.5 369.4V389.6M341.5 369.4V398.9M361.5 369.4V392.2M364.5 369.4V385.1M369.5 369.4V374.0M379.5 369.4V354.8M385.5 369.4V346.9M389.5 369.4V342.1M398.5 369.4V323.8M400.5 369.4V317.4M404.5 369.4V303.1M407.5 369.4V288.8M411.5 369.4V270.8M414.5 369.4V265.4M418.5 369.4V295.0M429.5 369.4V405.9M456.5 369.4V344.4M459.5 369.4V336.4M470.5 369.4V332.8M472.5 369.4V336.4M474.5 369.4V341.2M487.5 369.4V367.7M493.5 369.4V376.5M513.5 369.4V390.2M518.5 369.4V388.3M522.5 369.4V384.6M536.5 369.4V364.8M546.5 369.4V362.7M554.5 369.4V378.7M561.5 369.4V397.0M564.5 369.4V400.0M576.5 369.4V393.7M583.5 369.4V382.5M586.5 369.4V379.3M588.5 369.4V377.7M591.5 369.4V374.7M593.5 369.4V372.7M599.5 369.4V365.2M608.5 369.4V353.5M613.5 369.4V350.9M617.5 369.4V351.4M622.5 369.4V356.5M637.5 369.4V370.8M640.5 369.4V371.1M642.5 369.4V370.7" stroke="#868384" stroke-width="1.1" fill="none"/>
<path d="M122.5 369.4V372.8M135.5 369.4V368.1M157.5 369.4V377.6M162.5 369.4V376.1M171.5 369.4V370.9M191.5 369.4V367.7M197.5 369.4V361.4M217.5 369.4V350.5M226.5 369.4V329.0M245.5 369.4V366.4M251.5 369.4V381.4M261.5 369.4V388.6M279.5 369.4V393.7M290.5 369.4V399.0M306.5 369.4V399.9M322.5 369.4V385.6M330.5 369.4V382.7M338.5 369.4V393.3M345.5 369.4V402.3M349.5 369.4V402.9M353.5 369.4V402.2M356.5 369.4V400.3M358.5 369.4V397.6M377.5 369.4V357.6M382.5 369.4V350.8M392.5 369.4V337.4M395.5 369.4V331.5M431.5 369.4V411.4M445.5 369.4V378.8M451.5 369.4V361.3M453.5 369.4V354.1M468.5 369.4V330.6M497.5 369.4V382.0M501.5 369.4V385.9M508.5 369.4V389.5M552.5 369.4V372.8M568.5 369.4V398.8M572.5 369.4V396.4M604.5 369.4V356.0" stroke="#6c696a" stroke-width="1" fill="none"/>
<path d="M125.5 369.4V372.7M140.5 369.4V363.4M159.5 369.4V377.4M165.5 369.4V374.3M169.5 369.4V371.9M201.5 369.4V356.5M205.5 369.4V351.8M248.5 369.4V375.8M259.5 369.4V387.3M266.5 369.4V393.8M276.5 369.4V394.9M283.5 369.4V394.7M287.5 369.4V397.3M325.5 369.4V383.3M402.5 369.4V310.7M421.5 369.4V339.6M425.5 369.4V383.9M434.5 369.4V412.7M438.5 369.4V401.9M442.5 369.4V388.2M448.5 369.4V370.4M464.5 369.4V330.0M478.5 369.4V351.5M482.5 369.4V359.7M491.5 369.4V373.1M504.5 369.4V387.9M516.5 369.4V389.3M525.5 369.4V380.4M529.5 369.4V374.4M540.5 369.4V360.9M542.5 369.4V360.1M556.5 369.4V384.7M580.5 369.4V387.4M627.5 369.4V365.1" stroke="#3a3738" stroke-width="0.8" fill="none"/>
<path d="M120.4 585.2L120.4 585.0L120.9 585.0L121.4 585.1L121.8 585.1L122.3 585.1L122.8 585.1L123.3 585.1L123.8 585.0L124.2 585.0L124.7 584.9L125.2 584.8L125.7 584.8L126.1 584.7L126.6 584.6L127.1 584.4L127.6 584.3L128.1 584.2L128.5 584.0L129.0 583.7L129.5 583.5L130.0 583.1L130.5 582.8L130.9 582.4L131.4 582.1L131.9 581.7L132.4 581.2L132.9 580.8L133.3 580.4L133.8 580.0L134.3 579.5L134.8 579.1L135.3 578.7L135.7 578.3L136.2 577.9L136.7 577.6L137.2 577.3L137.6 577.0L138.1 576.8L138.6 576.6L139.1 576.4L139.6 576.3L140.0 576.2L140.5 576.2L141.0 576.3L141.5 576.6L142.0 576.9L142.4 577.3L142.9 577.6L143.4 578.0L143.9 578.5L144.4 579.0L144.8 579.6L145.3 580.1L145.8 580.6L146.3 581.1L146.8 581.5L147.2 582.0L147.7 582.5L148.2 582.9L148.7 583.3L149.1 583.8L149.6 584.2L150.1 584.6L150.6 584.9L151.1 585.2L151.5 585.6L152.0 585.9L152.5 586.2L153.0 586.5L153.5 586.7L153.9 587.0L154.4 587.2L154.9 587.4L155.4 587.5L155.9 587.7L156.3 587.9L156.8 588.0L157.3 588.1L157.8 588.2L158.3 588.2L158.7 588.2L159.2 588.2L159.7 588.2L160.2 588.2L160.6 588.2L161.1 588.2L161.6 588.1L162.1 588.1L162.6 588.0L163.0 588.0L163.5 587.9L164.0 587.8L164.5 587.7L165.0 587.6L165.4 587.5L165.9 587.3L166.4 587.2L166.9 587.1L167.4 586.9L167.8 586.8L168.3 586.7L168.8 586.6L169.3 586.5L169.8 586.4L170.2 586.4L170.7 586.3L171.2 586.2L171.7 586.2L172.1 586.2L172.6 586.2L173.1 586.3L173.6 586.3L174.1 586.4L174.5 586.5L175.0 586.5L175.5 586.6L176.0 586.7L176.5 586.8L176.9 586.9L177.4 586.9L177.9 587.0L178.4 587.1L178.9 587.2L179.3 587.3L179.8 587.4L180.3 587.4L180.8 587.5L181.3 587.6L181.7 587.6L182.2 587.6L182.7 587.7L183.2 587.7L183.6 587.8L184.1 587.8L184.6 587.8L185.1 587.8L185.6 587.8L186.0 587.8L186.5 587.8L187.0 587.8L187.5 587.8L188.0 587.7L188.4 587.6L188.9 587.5L189.4 587.4L189.9 587.3L190.4 587.2L190.8 587.0L191.3 586.9L191.8 586.8L192.3 586.6L192.8 586.5L193.2 586.3L193.7 586.2L194.2 586.0L194.7 585.8L195.1 585.6L195.6 585.4L196.1 585.1L196.6 584.9L197.1 584.6L197.5 584.3L198.0 584.0L198.5 583.7L199.0 583.4L199.5 583.1L199.9 582.8L200.4 582.4L200.9 582.1L201.4 581.8L201.9 581.5L202.3 581.2L202.8 580.9L203.3 580.7L203.8 580.4L204.3 580.2L204.7 579.9L205.2 579.7L205.7 579.5L206.2 579.3L206.6 579.2L207.1 579.0L207.6 578.8L208.1 578.7L208.6 578.5L209.0 578.5L209.5 578.4L210.0 578.4L210.5 578.4L211.0 578.5L211.4 578.6L211.9 578.8L212.4 578.9L212.9 579.1L213.4 579.2L213.8 579.4L214.3 579.5L214.8 579.7L215.3 579.8L215.8 580.0L216.2 580.2L216.7 580.4L217.2 580.6L217.7 580.7L218.1 580.8L218.6 580.7L219.1 580.3L219.6 579.8L220.1 579.2L220.5 578.6L221.0 578.0L221.5 577.1L222.0 576.2L222.5 575.1L222.9 573.9L223.4 572.7L223.9 571.3L224.4 569.7L224.9 568.0L225.3 566.3L225.8 564.5L226.3 562.7L226.8 560.8L227.3 558.8L227.7 556.9L228.2 555.0L228.7 553.0L229.2 551.0L229.6 549.1L230.1 547.2L230.6 545.5L231.1 543.9L231.6 542.5L232.0 541.0L232.5 539.7L233.0 538.6L233.5 537.8L234.0 537.4L234.4 537.4L234.9 537.7L235.4 538.3L235.9 539.0L236.4 539.8L236.8 540.8L237.3 541.9L237.8 543.2L238.3 544.6L238.8 546.3L239.2 548.1L239.7 550.0L240.2 552.0L240.7 554.1L241.1 556.2L241.6 558.3L242.1 560.2L242.6 562.0L243.1 563.8L243.5 565.4L244.0 567.1L244.5 568.7L245.0 570.3L245.5 571.9L245.9 573.5L246.4 575.0L246.9 576.5L247.4 578.0L247.9 579.5L248.3 581.0L248.8 582.4L249.3 583.7L249.8 584.8L250.3 585.6L250.7 586.4L251.2 587.2L251.7 587.8L252.2 588.5L252.6 589.1L253.1 589.7L253.6 590.2L254.1 590.8L254.6 591.3L255.0 591.8L255.5 592.4L256.0 592.9L256.5 593.3L257.0 593.8L257.4 594.2L257.9 594.7L258.4 595.1L258.9 595.6L259.4 596.1L259.8 596.5L260.3 597.0L260.8 597.6L261.3 598.1L261.8 598.8L262.2 599.4L262.7 600.2L263.2 601.1L263.7 602.1L264.1 603.3L264.6 604.7L265.1 606.1L265.6 607.8L266.1 609.8L266.5 611.9L267.0 614.5L267.5 617.2L268.0 619.7L268.5 621.8L268.9 623.7L269.4 625.4L269.9 626.9L270.4 628.3L270.9 629.6L271.3 630.2L271.8 629.9L272.3 629.1L272.8 628.2L273.3 627.3L273.7 626.4L274.2 625.5L274.7 624.5L275.2 623.4L275.6 622.3L276.1 621.2L276.6 620.0L277.1 619.0L277.6 618.1L278.0 617.2L278.5 616.4L279.0 615.8L279.5 615.3L280.0 614.8L280.4 614.4L280.9 614.0L281.4 613.8L281.9 613.5L282.4 613.3L282.8 613.2L283.3 613.2L283.8 613.1L284.3 613.1L284.8 613.1L285.2 613.1L285.7 613.1L286.2 613.1L286.7 613.1L287.1 613.2L287.6 613.2L288.1 613.3L288.6 613.3L289.1 613.4L289.5 613.5L290.0 613.6L290.5 613.8L291.0 613.9L291.5 614.0L291.9 614.2L292.4 614.3L292.9 614.4L293.4 614.6L293.9 614.7L294.3 614.8L294.8 614.9L295.3 615.0L295.8 615.1L296.3 615.2L296.7 615.2L297.2 615.3L297.7 615.4L298.2 615.4L298.6 615.4L299.1 615.4L299.6 615.3L300.1 615.3L300.6 615.2L301.0 615.1L301.5 615.0L302.0 614.9L302.5 614.7L303.0 614.5L303.4 614.3L303.9 614.0L304.4 613.8L304.9 613.5L305.4 613.2L305.8 612.8L306.3 612.5L306.8 612.1L307.3 611.7L307.8 611.2L308.2 610.8L308.7 610.3L309.2 609.8L309.7 609.3L310.1 608.8L310.6 608.3L311.1 607.8L311.6 607.3L312.1 606.8L312.5 606.3L313.0 605.8L313.5 605.3L314.0 604.8L314.5 604.3L314.9 603.7L315.4 603.2L315.9 602.7L316.4 602.1L316.9 601.6L317.3 601.0L317.8 600.5L318.3 599.9L318.8 599.4L319.3 598.8L319.7 598.3L320.2 597.7L320.7 597.2L321.2 596.6L321.6 596.0L322.1 595.4L322.6 594.8L323.1 594.2L323.6 593.6L324.0 593.2L324.5 592.7L325.0 592.3L325.5 592.0L326.0 591.6L326.4 591.4L326.9 591.2L327.4 591.1L327.9 591.0L328.4 591.0L328.8 591.0L329.3 591.0L329.8 591.0L330.3 591.2L330.8 591.3L331.2 591.5L331.7 591.7L332.2 591.9L332.7 592.2L333.1 592.5L333.6 592.9L334.1 593.3L334.6 593.8L335.1 594.3L335.5 594.8L336.0 595.4L336.5 596.1L337.0 596.8L337.5 597.5L337.9 598.3L338.4 599.2L338.9 600.1L339.4 601.0L339.9 601.9L340.3 602.8L340.8 603.8L341.3 604.7L341.8 605.5L342.3 606.1L342.7 606.8L343.2 607.3L343.7 607.8L344.2 608.3L344.6 608.6L345.1 608.9L345.6 609.2L346.1 609.5L346.6 609.7L347.0 609.8L347.5 609.9L348.0 609.9L348.5 610.0L349.0 610.0L349.4 610.1L349.9 610.1L350.4 610.2L350.9 610.2L351.4 610.2L351.8 610.2L352.3 610.3L352.8 610.3L353.3 610.3L353.8 610.3L354.2 610.2L354.7 610.2L355.2 610.2L355.7 609.9L356.1 609.6L356.6 609.1L357.1 608.6L357.6 608.0L358.1 607.3L358.5 606.5L359.0 605.8L359.5 605.0L360.0 604.1L360.5 603.2L360.9 602.3L361.4 601.4L361.9 600.4L362.4 599.4L362.9 598.4L363.3 597.4L363.8 596.3L364.3 595.3L364.8 594.3L365.3 593.3L365.7 592.3L366.2 591.4L366.7 590.5L367.2 589.6L367.6 588.7L368.1 587.8L368.6 586.9L369.1 585.9L369.6 584.8L370.0 583.7L370.5 582.5L371.0 581.2L371.5 580.0L372.0 578.8L372.4 577.6L372.9 576.5L373.4 575.4L373.9 574.3L374.4 573.2L374.8 572.1L375.3 571.2L375.8 570.2L376.3 569.3L376.8 568.4L377.2 567.5L377.7 566.7L378.2 565.9L378.7 565.1L379.1 564.4L379.6 563.6L380.1 563.0L380.6 562.3L381.1 561.7L381.5 561.2L382.0 560.7L382.5 560.3L383.0 559.8L383.5 559.4L383.9 558.9L384.4 558.3L384.9 557.7L385.4 557.2L385.9 556.5L386.3 555.9L386.8 555.3L387.3 554.7L387.8 554.0L388.3 553.3L388.7 552.7L389.2 552.0L389.7 551.3L390.2 550.5L390.6 549.8L391.1 549.1L391.6 548.3L392.1 547.4L392.6 546.6L393.0 545.7L393.5 544.8L394.0 543.9L394.5 543.0L395.0 542.0L395.4 541.0L395.9 540.0L396.4 538.9L396.9 537.8L397.4 536.6L397.8 535.3L398.3 534.0L398.8 532.6L399.3 531.2L399.8 529.8L400.2 528.3L400.7 526.8L401.2 525.3L401.7 523.8L402.1 522.3L402.6 520.8L403.1 519.1L403.6 517.5L404.1 515.7L404.5 513.9L405.0 512.1L405.5 510.2L406.0 508.3L406.5 506.3L406.9 504.3L407.4 502.2L407.9 500.2L408.4 498.2L408.9 496.2L409.3 494.1L409.8 492.1L410.3 490.1L410.8 488.1L411.3 486.2L411.7 484.1L412.2 482.0L412.7 480.2L413.2 478.8L413.6 478.2L414.1 478.9L414.6 480.8L415.1 483.2L415.6 485.4L416.0 487.9L416.5 490.7L417.0 493.8L417.5 497.5L418.0 501.9L418.4 506.6L418.9 511.4L419.4 516.6L419.9 522.3L420.4 528.5L420.8 535.5L421.3 542.9L421.8 550.5L422.3 557.8L422.8 564.6L423.2 570.6L423.7 576.0L424.2 581.1L424.7 585.9L425.1 590.7L425.6 595.4L426.1 600.0L426.6 604.4L427.1 608.3L427.5 611.9L428.0 615.2L428.5 618.2L429.0 621.2L429.5 624.1L429.9 626.5L430.4 628.3L430.9 629.7L431.4 631.0L431.9 632.1L432.3 633.0L432.8 633.6L433.3 634.0L433.8 634.2L434.3 634.2L434.7 634.0L435.2 633.6L435.7 632.9L436.2 632.1L436.6 631.0L437.1 629.6L437.6 627.9L438.1 626.1L438.6 624.5L439.0 622.8L439.5 621.2L440.0 619.6L440.5 618.0L441.0 616.3L441.4 614.7L441.9 613.0L442.4 611.4L442.9 609.7L443.4 608.0L443.8 606.4L444.3 604.7L444.8 603.1L445.3 601.5L445.8 599.8L446.2 598.2L446.7 596.6L447.2 595.1L447.7 593.6L448.1 592.1L448.6 590.7L449.1 589.2L449.6 587.8L450.1 586.3L450.5 584.7L451.0 583.2L451.5 581.6L452.0 579.9L452.5 578.3L452.9 576.7L453.4 575.0L453.9 573.4L454.4 571.8L454.9 570.3L455.3 568.7L455.8 567.2L456.3 565.7L456.8 564.3L457.3 562.9L457.7 561.6L458.2 560.2L458.7 558.9L459.2 557.7L459.6 556.5L460.1 555.6L460.6 554.7L461.1 553.8L461.6 553.1L462.0 552.4L462.5 552.0L463.0 551.6L463.5 551.3L464.0 551.0L464.4 550.9L464.9 550.8L465.4 550.9L465.9 551.1L466.4 551.5L466.8 552.0L467.3 552.5L467.8 553.1L468.3 553.9L468.8 554.8L469.2 555.9L469.7 557.1L470.2 558.3L470.7 559.6L471.1 561.1L471.6 562.7L472.1 564.3L472.6 566.0L473.1 567.9L473.5 569.9L474.0 571.9L474.5 573.9L475.0 575.7L475.5 577.4L475.9 579.0L476.4 580.5L476.9 581.9L477.4 583.4L477.9 584.8L478.3 586.2L478.8 587.6L479.3 588.9L479.8 590.1L480.3 591.3L480.7 592.4L481.2 593.4L481.7 594.3L482.2 595.1L482.6 595.8L483.1 596.4L483.6 597.0L484.1 597.6L484.6 598.2L485.0 598.7L485.5 599.3L486.0 599.8L486.5 600.2L487.0 600.7L487.4 601.2L487.9 601.7L488.4 602.2L488.9 602.7L489.4 603.3L489.8 603.8L490.3 604.3L490.8 604.9L491.3 605.4L491.8 605.9L492.2 606.5L492.7 607.0L493.2 607.6L493.7 608.2L494.1 608.8L494.6 609.3L495.1 609.9L495.6 610.4L496.1 610.9L496.5 611.3L497.0 611.7L497.5 612.1L498.0 612.5L498.5 612.9L498.9 613.2L499.4 613.5L499.9 613.8L500.4 614.0L500.9 614.2L501.3 614.4L501.8 614.7L502.3 614.8L502.8 615.0L503.3 615.1L503.7 615.2L504.2 615.2L504.7 615.2L505.2 615.1L505.6 615.1L506.1 615.0L506.6 614.9L507.1 614.8L507.6 614.6L508.0 614.5L508.5 614.3L509.0 614.1L509.5 613.9L510.0 613.7L510.4 613.5L510.9 613.3L511.4 613.1L511.9 612.9L512.4 612.6L512.8 612.5L513.3 612.3L513.8 612.1L514.3 611.9L514.8 611.7L515.2 611.5L515.7 611.3L516.2 611.1L516.7 610.9L517.1 610.7L517.6 610.5L518.1 610.3L518.6 610.1L519.1 609.9L519.5 609.6L520.0 609.4L520.5 609.1L521.0 608.8L521.5 608.4L521.9 607.8L522.4 606.9L522.9 606.0L523.4 605.0L523.9 604.0L524.3 603.0L524.8 601.8L525.3 600.6L525.8 599.4L526.3 598.2L526.7 597.0L527.2 595.8L527.7 594.7L528.2 593.5L528.6 592.3L529.1 591.1L529.6 589.9L530.1 588.7L530.6 587.5L531.0 586.2L531.5 584.9L532.0 583.5L532.5 582.0L533.0 580.5L533.4 579.0L533.9 577.5L534.4 575.9L534.9 574.4L535.4 572.8L535.8 571.2L536.3 569.8L536.8 568.4L537.3 567.1L537.8 565.9L538.2 564.8L538.7 563.8L539.2 562.8L539.7 561.9L540.1 560.9L540.6 560.0L541.1 559.1L541.6 558.3L542.1 557.7L542.5 557.2L543.0 556.8L543.5 556.5L544.0 556.2L544.5 556.0L544.9 555.9L545.4 555.8L545.9 555.8L546.4 556.0L546.9 556.4L547.3 557.1L547.8 557.9L548.3 558.8L548.8 559.9L549.3 561.4L549.7 562.9L550.2 564.5L550.7 566.3L551.2 568.2L551.6 570.2L552.1 572.2L552.6 574.4L553.1 576.5L553.6 578.4L554.0 579.8L554.5 581.0L555.0 582.2L555.5 583.5L556.0 585.0L556.4 587.0L556.9 589.3L557.4 591.7L557.9 594.1L558.4 596.7L558.8 599.1L559.3 601.0L559.8 602.6L560.3 604.1L560.8 605.5L561.2 606.9L561.7 608.4L562.2 609.8L562.7 611.1L563.1 612.1L563.6 612.9L564.1 613.7L564.6 614.3L565.1 615.0L565.5 615.6L566.0 616.2L566.5 616.8L567.0 617.5L567.5 618.0L567.9 618.6L568.4 619.2L568.9 619.7L569.4 620.2L569.9 620.6L570.3 621.1L570.8 621.5L571.3 621.8L571.8 622.2L572.3 622.5L572.7 622.8L573.2 623.1L573.7 623.2L574.2 623.2L574.6 622.7L575.1 621.9L575.6 621.0L576.1 620.1L576.6 618.9L577.0 617.7L577.5 616.3L578.0 614.8L578.5 613.3L579.0 611.8L579.4 610.3L579.9 608.8L580.4 607.4L580.9 606.1L581.4 605.0L581.8 604.1L582.3 603.2L582.8 602.5L583.3 601.8L583.8 601.2L584.2 600.6L584.7 600.1L585.2 599.6L585.7 599.3L586.1 598.9L586.6 598.6L587.1 598.3L587.6 597.9L588.1 597.6L588.5 597.3L589.0 597.0L589.5 596.6L590.0 596.2L590.5 595.7L590.9 594.9L591.4 593.9L591.9 592.4L592.4 590.5L592.9 589.1L593.3 588.0L593.8 587.0L594.3 586.0L594.8 584.7L595.3 583.4L595.7 582.0L596.2 580.6L596.7 579.2L597.2 577.7L597.6 576.1L598.1 574.6L598.6 573.0L599.1 571.6L599.6 570.2L600.0 568.9L600.5 567.6L601.0 566.4L601.5 565.2L602.0 563.9L602.4 562.8L602.9 561.9L603.4 561.3L603.9 560.7L604.4 560.2L604.8 559.8L605.3 559.4L605.8 559.0L606.3 558.6L606.8 558.2L607.2 557.9L607.7 557.6L608.2 557.3L608.7 557.1L609.1 556.9L609.6 556.7L610.1 556.5L610.6 556.3L611.1 556.2L611.5 556.0L612.0 555.8L612.5 555.7L613.0 555.6L613.5 555.5L613.9 555.4L614.4 555.5L614.9 555.7L615.4 556.1L615.9 556.5L616.3 557.0L616.8 557.5L617.3 558.1L617.8 558.8L618.3 559.6L618.7 560.4L619.2 561.2L619.7 562.0L620.2 562.9L620.6 563.9L621.1 564.9L621.6 565.9L622.1 567.0L622.6 568.2L623.0 569.4L623.5 570.6L624.0 571.8L624.5 572.9L625.0 574.0L625.4 575.2L625.9 576.3L626.4 577.3L626.9 578.4L627.4 579.5L627.8 580.5L628.3 581.6L628.8 582.6L629.3 583.6L629.8 584.7L630.2 585.7L630.7 586.8L631.2 587.9L631.7 589.0L632.1 590.0L632.6 591.1L633.1 592.2L633.6 593.1L634.1 593.9L634.5 594.5L635.0 595.1L635.5 595.6L636.0 596.0L636.5 596.4L636.9 596.7L637.4 596.9L637.9 597.1L638.4 597.4L638.9 597.6L639.3 597.7L639.8 597.8L640.3 597.8L640.8 597.8L641.3 597.7L641.7 597.6L642.2 597.5L642.7 597.3L643.2 597.1L643.6 596.9L644.1 596.6L644.6 596.2L645.1 595.7L645.6 595.2L646.0 594.5L646.5 593.6L647.0 592.8L647.0 585.2Z" fill="#545152"/>
<path d="M131.5 585.2V582.6M142.5 585.2V577.9M148.5 585.2V583.8M162.5 585.2V587.4M165.5 585.2V586.8M176.5 585.2V586.2M187.5 585.2V587.2M190.5 585.2V586.5M199.5 585.2V583.7M210.5 585.2V579.0M215.5 585.2V580.5M222.5 585.2V575.6M228.5 585.2V554.4M234.5 585.2V538.0M239.5 585.2V549.8M245.5 585.2V572.6M247.5 585.2V578.9M251.5 585.2V587.0M254.5 585.2V590.6M259.5 585.2V595.6M262.5 585.2V599.3M267.5 585.2V616.6M270.5 585.2V628.1M277.5 585.2V617.6M280.5 585.2V613.7M282.5 585.2V612.7M284.5 585.2V612.5M293.5 585.2V614.0M302.5 585.2V614.1M309.5 585.2V608.9M311.5 585.2V606.8M316.5 585.2V601.4M323.5 585.2V593.1M327.5 585.2V590.5M335.5 585.2V594.2M341.5 585.2V604.4M357.5 585.2V607.5M362.5 585.2V598.6M370.5 585.2V583.1M376.5 585.2V569.4M387.5 585.2V555.0M389.5 585.2V552.1M395.5 585.2V541.5M399.5 585.2V531.1M401.5 585.2V525.0M404.5 585.2V514.7M415.5 585.2V485.7M420.5 585.2V531.2M428.5 585.2V617.6M430.5 585.2V628.0M433.5 585.2V633.5M437.5 585.2V627.7M439.5 585.2V620.7M453.5 585.2V575.4M457.5 585.2V562.8M464.5 585.2V551.4M473.5 585.2V570.3M482.5 585.2V594.9M485.5 585.2V598.6M488.5 585.2V601.7M501.5 585.2V613.9M504.5 585.2V614.6M508.5 585.2V613.7M510.5 585.2V612.9M512.5 585.2V612.0M517.5 585.2V610.0M520.5 585.2V608.5M524.5 585.2V602.0M527.5 585.2V594.5M530.5 585.2V587.0M535.5 585.2V572.9M537.5 585.2V567.1M540.5 585.2V560.8M544.5 585.2V556.6M546.5 585.2V556.7M556.5 585.2V586.7M565.5 585.2V615.0M572.5 585.2V622.1M592.5 585.2V589.5M614.5 585.2V556.1M617.5 585.2V559.0M631.5 585.2V588.0M635.5 585.2V595.0M639.5 585.2V597.1M643.5 585.2V596.4M645.5 585.2V594.6" stroke="#868384" stroke-width="1.1" fill="none"/>
<path d="M136.5 585.2V578.3M140.5 585.2V576.8M145.5 585.2V580.9M183.5 585.2V587.1M203.5 585.2V581.2M207.5 585.2V579.5M213.5 585.2V579.9M217.5 585.2V581.3M230.5 585.2V546.4M242.5 585.2V562.3M272.5 585.2V628.2M274.5 585.2V624.3M298.5 585.2V614.8M306.5 585.2V611.7M320.5 585.2V596.8M330.5 585.2V590.6M332.5 585.2V591.5M338.5 585.2V598.8M344.5 585.2V607.9M355.5 585.2V609.4M365.5 585.2V592.2M374.5 585.2V573.5M378.5 585.2V566.0M384.5 585.2V558.8M408.5 585.2V498.3M413.5 585.2V478.9M422.5 585.2V561.7M426.5 585.2V603.0M442.5 585.2V610.4M445.5 585.2V600.1M449.5 585.2V587.4M459.5 585.2V557.5M471.5 585.2V562.8M490.5 585.2V603.9M506.5 585.2V614.3M554.5 585.2V581.6M560.5 585.2V604.1M569.5 585.2V619.7M575.5 585.2V620.6M577.5 585.2V615.8M580.5 585.2V606.5M582.5 585.2V602.3M586.5 585.2V598.1M589.5 585.2V596.0M596.5 585.2V580.3M603.5 585.2V561.7M607.5 585.2V558.3M626.5 585.2V578.2" stroke="#6c696a" stroke-width="1" fill="none"/>
<path d="M153.5 585.2V586.1M155.5 585.2V587.0M158.5 585.2V587.6M168.5 585.2V586.1M180.5 585.2V586.9M185.5 585.2V587.2M192.5 585.2V586.0M205.5 585.2V580.2M219.5 585.2V580.5M226.5 585.2V562.5M236.5 585.2V540.7M288.5 585.2V612.7M349.5 585.2V609.5M353.5 585.2V609.7M381.5 585.2V561.8M393.5 585.2V545.5M467.5 585.2V553.3M477.5 585.2V584.3M492.5 585.2V606.2M496.5 585.2V610.7M532.5 585.2V582.5M549.5 585.2V562.8M598.5 585.2V573.9M610.5 585.2V557.0M621.5 585.2V566.3" stroke="#3a3738" stroke-width="0.8" fill="none"/>
<path d="M120.4 800.1L120.4 852.3L120.9 852.4L121.4 852.5L121.8 852.6L122.3 852.7L122.8 852.7L123.3 852.7L123.8 852.7L124.2 852.7L124.7 852.7L125.2 852.7L125.7 852.5L126.1 852.3L126.6 852.1L127.1 851.8L127.6 851.5L128.1 851.0L128.5 850.3L129.0 849.7L129.5 848.8L130.0 847.5L130.5 846.2L130.9 844.8L131.4 843.2L131.9 841.2L132.4 838.6L132.8 835.0L133.3 831.0L133.8 826.4L134.3 821.7L134.8 817.6L135.2 813.7L135.7 810.0L136.2 806.3L136.7 802.6L137.2 798.9L137.6 795.2L138.1 791.5L138.6 787.8L139.1 784.1L139.6 781.0L140.0 778.7L140.5 776.8L141.0 775.3L141.5 773.9L141.9 772.8L142.4 772.1L142.9 771.4L143.4 771.0L143.9 770.7L144.3 770.4L144.8 770.3L145.3 770.4L145.8 770.6L146.3 770.9L146.7 771.3L147.2 771.7L147.7 772.2L148.2 772.7L148.6 773.3L149.1 773.8L149.6 774.4L150.1 775.0L150.6 775.5L151.0 776.1L151.5 776.6L152.0 777.2L152.5 777.8L153.0 778.4L153.4 779.0L153.9 779.6L154.4 780.2L154.9 780.8L155.4 781.5L155.8 782.1L156.3 782.8L156.8 783.4L157.3 784.1L157.7 784.8L158.2 785.5L158.7 786.2L159.2 787.0L159.7 787.8L160.1 788.6L160.6 789.6L161.1 790.5L161.6 791.5L162.1 792.6L162.5 793.7L163.0 794.7L163.5 795.6L164.0 796.5L164.4 797.3L164.9 798.1L165.4 799.0L165.9 799.9L166.4 800.8L166.8 801.8L167.3 802.9L167.8 803.9L168.3 805.0L168.8 806.0L169.2 807.1L169.7 808.1L170.2 809.1L170.7 810.1L171.2 811.1L171.6 812.1L172.1 813.1L172.6 814.1L173.1 815.0L173.5 816.0L174.0 816.9L174.5 817.9L175.0 818.8L175.5 819.7L175.9 820.6L176.4 821.5L176.9 822.3L177.4 823.2L177.9 824.1L178.3 825.0L178.8 825.8L179.3 826.6L179.8 827.4L180.2 828.2L180.7 828.9L181.2 829.6L181.7 830.3L182.2 830.9L182.6 831.5L183.1 832.0L183.6 832.5L184.1 833.0L184.6 833.4L185.0 833.7L185.5 834.0L186.0 834.3L186.5 834.6L187.0 834.8L187.4 835.0L187.9 835.1L188.4 835.1L188.9 834.9L189.3 834.7L189.8 834.4L190.3 834.0L190.8 833.7L191.3 833.2L191.7 832.6L192.2 831.9L192.7 831.2L193.2 830.4L193.7 829.6L194.1 828.6L194.6 827.6L195.1 826.5L195.6 825.4L196.1 824.3L196.5 823.0L197.0 821.6L197.5 820.2L198.0 818.8L198.4 817.3L198.9 815.7L199.4 814.1L199.9 812.3L200.4 810.6L200.8 808.9L201.3 807.1L201.8 805.3L202.3 803.3L202.8 801.2L203.2 798.9L203.7 796.3L204.2 793.4L204.7 790.4L205.1 787.3L205.6 784.3L206.1 781.1L206.6 777.8L207.1 774.5L207.5 771.4L208.0 768.6L208.5 766.1L209.0 763.8L209.5 761.6L209.9 759.5L210.4 757.5L210.9 755.4L211.4 753.2L211.9 751.1L212.3 749.1L212.8 747.3L213.3 745.8L213.8 744.4L214.2 743.1L214.7 741.9L215.2 740.8L215.7 739.7L216.2 738.6L216.6 737.6L217.1 736.6L217.6 735.6L218.1 734.5L218.6 733.6L219.0 732.6L219.5 731.6L220.0 730.3L220.5 728.8L220.9 726.9L221.4 724.7L221.9 721.9L222.4 718.9L222.9 715.9L223.3 712.9L223.8 709.7L224.3 706.6L224.8 703.8L225.3 701.6L225.7 699.9L226.2 698.5L226.7 697.4L227.2 696.4L227.7 695.8L228.1 695.8L228.6 696.8L229.1 698.5L229.6 700.4L230.0 702.6L230.5 705.4L231.0 708.7L231.5 712.8L232.0 717.7L232.4 722.9L232.9 728.3L233.4 733.9L233.9 739.4L234.4 744.4L234.8 749.3L235.3 754.1L235.8 758.8L236.3 763.5L236.7 768.2L237.2 773.0L237.7 778.0L238.2 783.1L238.7 788.1L239.1 792.9L239.6 797.1L240.1 800.8L240.6 804.0L241.1 806.9L241.5 809.6L242.0 812.1L242.5 814.4L243.0 816.6L243.5 818.7L243.9 820.8L244.4 822.9L244.9 825.0L245.4 826.9L245.8 828.8L246.3 830.5L246.8 832.1L247.3 833.5L247.8 834.8L248.2 836.0L248.7 837.2L249.2 838.3L249.7 839.3L250.2 840.3L250.6 841.3L251.1 842.2L251.6 843.1L252.1 843.8L252.5 844.5L253.0 845.2L253.5 845.7L254.0 846.3L254.5 846.7L254.9 847.0L255.4 847.3L255.9 847.5L256.4 847.7L256.9 847.7L257.3 847.6L257.8 847.3L258.3 846.8L258.8 846.3L259.3 845.8L259.7 845.1L260.2 844.3L260.7 843.4L261.2 842.3L261.6 841.1L262.1 839.6L262.6 838.0L263.1 836.3L263.6 834.5L264.0 832.5L264.5 830.6L265.0 828.7L265.5 826.9L266.0 825.2L266.4 823.5L266.9 822.1L267.4 820.9L267.9 819.8L268.3 819.2L268.8 819.2L269.3 820.0L269.8 821.1L270.3 822.5L270.7 824.0L271.2 825.8L271.7 827.6L272.2 829.3L272.7 831.1L273.1 832.8L273.6 834.5L274.1 836.1L274.6 837.6L275.1 838.8L275.5 839.8L276.0 840.6L276.5 841.3L277.0 841.7L277.4 842.1L277.9 842.3L278.4 842.3L278.9 842.0L279.4 841.5L279.8 840.9L280.3 840.2L280.8 839.4L281.3 838.5L281.8 837.5L282.2 836.5L282.7 835.4L283.2 834.2L283.7 833.1L284.1 831.8L284.6 830.5L285.1 829.2L285.6 827.9L286.1 826.5L286.5 825.1L287.0 823.7L287.5 822.3L288.0 820.8L288.5 819.2L288.9 817.7L289.4 816.0L289.9 814.4L290.4 812.8L290.9 811.1L291.3 809.5L291.8 807.8L292.3 806.1L292.8 804.4L293.2 802.7L293.7 801.0L294.2 799.4L294.7 797.8L295.2 796.2L295.6 794.7L296.1 793.2L296.6 791.8L297.1 790.5L297.6 789.3L298.0 788.3L298.5 787.3L299.0 786.3L299.5 785.4L299.9 784.7L300.4 784.4L300.9 784.1L301.4 783.9L301.9 783.7L302.3 783.5L302.8 783.4L303.3 783.3L303.8 783.2L304.3 783.2L304.7 783.1L305.2 783.1L305.7 783.1L306.2 783.2L306.7 783.2L307.1 783.3L307.6 783.4L308.1 783.4L308.6 783.5L309.0 783.6L309.5 783.7L310.0 783.9L310.5 784.0L311.0 784.1L311.4 784.2L311.9 784.4L312.4 784.5L312.9 784.7L313.4 784.9L313.8 785.1L314.3 785.3L314.8 785.5L315.3 785.7L315.7 786.0L316.2 786.2L316.7 786.4L317.2 786.7L317.7 787.0L318.1 787.2L318.6 787.5L319.1 787.8L319.6 788.0L320.1 788.3L320.5 788.6L321.0 789.0L321.5 789.3L322.0 789.6L322.5 790.0L322.9 790.4L323.4 790.7L323.9 791.1L324.4 791.5L324.8 791.9L325.3 792.3L325.8 792.7L326.3 793.1L326.8 793.5L327.2 793.9L327.7 794.3L328.2 794.8L328.7 795.2L329.2 795.7L329.6 796.2L330.1 796.7L330.6 797.2L331.1 797.8L331.6 798.3L332.0 798.9L332.5 799.5L333.0 800.1L333.5 800.7L333.9 801.3L334.4 801.9L334.9 802.5L335.4 803.1L335.9 803.7L336.3 804.3L336.8 804.9L337.3 805.6L337.8 806.2L338.3 806.8L338.7 807.4L339.2 808.0L339.7 808.6L340.2 809.1L340.6 809.7L341.1 810.2L341.6 810.8L342.1 811.3L342.6 811.8L343.0 812.1L343.5 812.4L344.0 812.7L344.5 812.9L345.0 813.1L345.4 813.2L345.9 813.3L346.4 813.3L346.9 813.2L347.4 813.0L347.8 812.7L348.3 812.5L348.8 812.3L349.3 812.0L349.7 811.7L350.2 811.4L350.7 811.2L351.2 811.1L351.7 811.0L352.1 811.0L352.6 810.9L353.1 810.9L353.6 810.9L354.1 810.9L354.5 810.9L355.0 811.0L355.5 811.0L356.0 811.0L356.4 811.1L356.9 811.1L357.4 811.1L357.9 810.9L358.4 810.6L358.8 810.4L359.3 810.1L359.8 809.8L360.3 809.4L360.8 809.0L361.2 808.4L361.7 807.8L362.2 807.0L362.7 806.2L363.2 805.3L363.6 804.5L364.1 803.7L364.6 802.8L365.1 801.9L365.5 801.0L366.0 800.1L366.5 799.0L367.0 797.9L367.5 796.8L367.9 795.6L368.4 794.5L368.9 793.4L369.4 792.3L369.9 791.1L370.3 790.1L370.8 789.1L371.3 788.2L371.8 787.3L372.2 786.5L372.7 785.7L373.2 784.9L373.7 784.2L374.2 783.5L374.6 782.8L375.1 782.1L375.6 781.4L376.1 780.8L376.6 780.2L377.0 779.7L377.5 779.2L378.0 778.8L378.5 778.4L379.0 778.0L379.4 777.7L379.9 777.5L380.4 777.2L380.9 777.0L381.3 776.8L381.8 776.7L382.3 776.7L382.8 776.8L383.3 777.0L383.7 777.1L384.2 777.1L384.7 777.2L385.2 777.2L385.7 777.2L386.1 777.3L386.6 777.3L387.1 777.3L387.6 777.3L388.0 777.3L388.5 777.2L389.0 777.2L389.5 777.2L390.0 777.1L390.4 777.0L390.9 776.9L391.4 776.7L391.9 776.6L392.4 776.4L392.8 776.2L393.3 776.0L393.8 775.8L394.3 775.5L394.8 775.3L395.2 775.1L395.7 774.8L396.2 774.6L396.7 774.4L397.1 774.2L397.6 774.1L398.1 773.9L398.6 773.6L399.1 773.4L399.5 773.0L400.0 772.7L400.5 772.2L401.0 771.6L401.5 771.0L401.9 770.4L402.4 769.7L402.9 769.0L403.4 768.4L403.8 767.8L404.3 767.5L404.8 767.2L405.3 767.0L405.8 766.8L406.2 766.6L406.7 766.4L407.2 766.2L407.7 766.0L408.2 765.8L408.6 765.7L409.1 766.0L409.6 770.9L410.1 776.6L410.6 782.6L411.0 788.5L411.5 794.7L412.0 800.0L412.5 802.4L412.9 804.2L413.4 806.2L413.9 808.3L414.4 810.3L414.9 812.2L415.3 814.1L415.8 816.0L416.3 817.9L416.8 819.9L417.3 821.8L417.7 823.9L418.2 825.5L418.7 825.4L419.2 823.7L419.6 821.8L420.1 820.0L420.6 818.2L421.1 816.4L421.6 814.7L422.0 813.1L422.5 811.5L423.0 809.9L423.5 808.3L424.0 806.8L424.4 805.4L424.9 804.1L425.4 802.8L425.9 801.6L426.4 800.3L426.8 798.2L427.3 795.9L427.8 793.5L428.3 792.0L428.7 790.9L429.2 790.0L429.7 789.1L430.2 788.3L430.7 787.5L431.1 786.3L431.6 784.5L432.1 782.4L432.6 780.3L433.1 777.8L433.5 775.3L434.0 773.7L434.5 772.8L435.0 772.0L435.4 771.4L435.9 771.0L436.4 770.6L436.9 770.4L437.4 770.2L437.8 769.9L438.3 769.8L438.8 769.7L439.3 769.7L439.8 769.8L440.2 770.0L440.7 770.3L441.2 770.6L441.7 770.9L442.2 771.4L442.6 772.0L443.1 772.6L443.6 773.2L444.1 773.8L444.5 774.3L445.0 774.9L445.5 775.5L446.0 776.0L446.5 776.6L446.9 777.1L447.4 777.7L447.9 778.2L448.4 778.8L448.9 779.4L449.3 779.9L449.8 780.5L450.3 781.0L450.8 781.6L451.3 782.2L451.7 782.8L452.2 783.4L452.7 783.9L453.2 784.5L453.6 785.1L454.1 785.7L454.6 786.2L455.1 786.7L455.6 787.2L456.0 787.7L456.5 788.2L457.0 788.6L457.5 789.0L458.0 789.4L458.4 789.8L458.9 790.2L459.4 790.5L459.9 790.9L460.3 791.3L460.8 791.7L461.3 792.1L461.8 792.5L462.3 793.0L462.7 793.4L463.2 793.9L463.7 794.4L464.2 794.9L464.7 795.4L465.1 795.9L465.6 796.4L466.1 796.9L466.6 797.5L467.1 798.0L467.5 798.5L468.0 799.0L468.5 799.5L469.0 800.1L469.4 800.6L469.9 801.1L470.4 801.7L470.9 802.2L471.4 802.7L471.8 803.3L472.3 803.8L472.8 804.4L473.3 804.9L473.8 805.4L474.2 806.0L474.7 806.5L475.2 806.9L475.7 807.4L476.1 807.8L476.6 808.3L477.1 808.7L477.6 809.1L478.1 809.5L478.5 809.9L479.0 810.3L479.5 810.6L480.0 811.0L480.5 811.3L480.9 811.7L481.4 812.0L481.9 812.4L482.4 812.7L482.9 813.0L483.3 813.3L483.8 813.6L484.3 813.9L484.8 814.1L485.2 814.4L485.7 814.6L486.2 814.9L486.7 815.1L487.2 815.3L487.6 815.6L488.1 815.8L488.6 816.0L489.1 816.2L489.6 816.4L490.0 816.7L490.5 816.9L491.0 817.1L491.5 817.4L491.9 817.7L492.4 817.9L492.9 818.2L493.4 818.5L493.9 818.9L494.3 819.2L494.8 819.5L495.3 819.8L495.8 820.2L496.3 820.5L496.7 820.9L497.2 821.2L497.7 821.5L498.2 821.8L498.7 822.0L499.1 822.3L499.6 822.5L500.1 822.7L500.6 822.8L501.0 822.9L501.5 823.0L502.0 823.1L502.5 823.1L503.0 823.1L503.4 823.0L503.9 822.8L504.4 822.5L504.9 822.1L505.4 821.8L505.8 821.5L506.3 821.1L506.8 820.7L507.3 820.3L507.7 819.9L508.2 819.5L508.7 819.2L509.2 818.9L509.7 818.7L510.1 818.4L510.6 818.2L511.1 817.9L511.6 817.7L512.1 817.4L512.5 817.0L513.0 816.7L513.5 816.3L514.0 815.7L514.5 815.2L514.9 814.6L515.4 813.9L515.9 813.2L516.4 812.4L516.8 811.8L517.3 811.5L517.8 811.2L518.3 810.9L518.8 810.8L519.2 810.6L519.7 810.5L520.2 810.5L520.7 810.5L521.2 810.5L521.6 810.9L522.1 811.3L522.6 811.6L523.1 811.7L523.5 811.6L524.0 811.4L524.5 811.2L525.0 810.9L525.5 810.7L525.9 810.5L526.4 810.3L526.9 810.1L527.4 809.9L527.9 809.7L528.3 809.6L528.8 809.6L529.3 809.5L529.8 809.5L530.3 809.4L530.7 809.4L531.2 809.4L531.7 809.4L532.2 809.4L532.6 809.5L533.1 809.5L533.6 809.6L534.1 809.7L534.6 809.9L535.0 810.2L535.5 810.6L536.0 811.0L536.5 811.4L537.0 811.8L537.4 812.2L537.9 812.7L538.4 813.1L538.9 813.6L539.3 814.0L539.8 814.4L540.3 814.9L540.8 815.3L541.3 815.7L541.7 816.1L542.2 816.5L542.7 816.9L543.2 817.3L543.7 817.7L544.1 818.1L544.6 818.4L545.1 818.8L545.6 819.0L546.1 819.3L546.5 819.6L547.0 819.8L547.5 820.0L548.0 820.3L548.4 820.5L548.9 820.7L549.4 820.9L549.9 821.1L550.4 821.4L550.8 821.6L551.3 821.9L551.8 822.3L552.3 822.7L552.8 823.2L553.2 823.6L553.7 824.1L554.2 824.6L554.7 825.1L555.1 825.6L555.6 826.1L556.1 826.6L556.6 827.2L557.1 827.8L557.5 828.4L558.0 829.1L558.5 829.8L559.0 830.5L559.5 831.3L559.9 832.0L560.4 832.7L560.9 833.5L561.4 834.3L561.9 835.0L562.3 835.8L562.8 836.4L563.3 837.1L563.8 837.7L564.2 838.2L564.7 838.7L565.2 839.2L565.7 839.5L566.2 839.9L566.6 840.3L567.1 840.5L567.6 840.7L568.1 840.7L568.6 840.6L569.0 840.4L569.5 840.2L570.0 840.0L570.5 839.8L570.9 839.6L571.4 839.5L571.9 839.3L572.4 839.1L572.9 838.9L573.3 838.8L573.8 838.7L574.3 838.7L574.8 838.6L575.3 838.6L575.7 838.6L576.2 838.6L576.7 838.6L577.2 838.6L577.7 838.6L578.1 838.5L578.6 838.5L579.1 838.4L579.6 838.4L580.0 838.3L580.5 838.1L581.0 837.7L581.5 837.3L582.0 836.8L582.4 836.2L582.9 835.8L583.4 835.3L583.9 834.9L584.4 834.4L584.8 833.9L585.3 833.5L585.8 833.2L586.3 833.0L586.8 832.8L587.2 832.7L587.7 832.6L588.2 832.5L588.7 832.4L589.1 832.3L589.6 832.2L590.1 832.1L590.6 832.0L591.1 831.9L591.5 831.8L592.0 831.7L592.5 831.5L593.0 831.2L593.5 830.9L593.9 830.5L594.4 830.2L594.9 829.8L595.4 829.4L595.8 829.0L596.3 828.5L596.8 827.9L597.3 827.2L597.8 826.1L598.2 824.7L598.7 823.2L599.2 821.7L599.7 820.0L600.2 818.0L600.6 815.8L601.1 813.5L601.6 811.2L602.1 808.8L602.6 806.5L603.0 804.6L603.5 803.3L604.0 802.3L604.5 801.3L604.9 800.2L605.4 799.0L605.9 797.6L606.4 796.3L606.9 794.9L607.3 793.5L607.8 792.1L608.3 790.7L608.8 789.3L609.3 788.0L609.7 786.8L610.2 785.7L610.7 784.5L611.2 783.4L611.6 782.2L612.1 781.1L612.6 780.0L613.1 778.9L613.6 777.7L614.0 776.6L614.5 775.4L615.0 774.3L615.5 773.1L616.0 771.9L616.4 770.8L616.9 769.6L617.4 768.4L617.9 767.3L618.4 766.2L618.8 765.1L619.3 764.0L619.8 763.0L620.3 762.0L620.7 761.0L621.2 760.1L621.7 759.1L622.2 758.3L622.7 757.4L623.1 756.4L623.6 755.6L624.1 754.8L624.6 754.1L625.1 753.7L625.5 753.3L626.0 753.0L626.5 752.7L627.0 752.5L627.4 752.3L627.9 752.1L628.4 752.0L628.9 751.8L629.4 751.7L629.8 751.7L630.3 751.8L630.8 752.1L631.3 752.6L631.8 753.1L632.2 753.6L632.7 754.3L633.2 755.0L633.7 756.0L634.2 756.8L634.6 757.5L635.1 758.1L635.6 758.3L636.1 758.4L636.5 758.3L637.0 758.2L637.5 758.0L638.0 757.7L638.5 757.2L638.9 756.5L639.4 755.7L639.9 755.0L640.4 754.2L640.9 753.4L641.3 752.7L641.8 751.9L642.3 751.3L642.8 750.8L643.2 750.3L643.7 749.9L644.2 749.4L644.7 748.9L645.2 748.5L645.6 748.0L646.1 747.5L646.6 747.1L646.6 800.1Z" fill="#545152"/>
<path d="M122.5 800.1V852.1M128.5 800.1V849.8M132.5 800.1V837.1M134.5 800.1V819.2M145.5 800.1V771.0M162.5 800.1V794.2M175.5 800.1V819.2M184.5 800.1V832.7M190.5 800.1V833.3M193.5 800.1V829.3M211.5 800.1V753.2M218.5 800.1V734.3M221.5 800.1V724.9M232.5 800.1V724.2M245.5 800.1V826.9M248.5 800.1V836.1M252.5 800.1V843.8M255.5 800.1V846.7M258.5 800.1V846.0M260.5 800.1V843.1M265.5 800.1V826.2M270.5 800.1V822.6M288.5 800.1V818.5M296.5 800.1V792.7M302.5 800.1V784.1M307.5 800.1V783.9M314.5 800.1V786.0M316.5 800.1V786.9M323.5 800.1V791.4M326.5 800.1V793.9M331.5 800.1V798.9M334.5 800.1V801.4M340.5 800.1V808.9M347.5 800.1V812.3M351.5 800.1V810.4M353.5 800.1V810.3M362.5 800.1V805.9M368.5 800.1V794.9M373.5 800.1V785.0M378.5 800.1V779.0M382.5 800.1V777.4M386.5 800.1V777.9M388.5 800.1V777.9M414.5 800.1V810.1M418.5 800.1V825.1M422.5 800.1V811.0M424.5 800.1V804.6M427.5 800.1V795.5M430.5 800.1V788.4M434.5 800.1V773.3M443.5 800.1V773.7M445.5 800.1V776.0M447.5 800.1V778.4M464.5 800.1V795.8M473.5 800.1V804.6M478.5 800.1V809.2M487.5 800.1V814.9M489.5 800.1V815.8M500.5 800.1V822.2M504.5 800.1V821.8M507.5 800.1V819.5M515.5 800.1V813.2M523.5 800.1V811.0M535.5 800.1V810.0M541.5 800.1V815.3M553.5 800.1V823.3M567.5 800.1V840.1M571.5 800.1V838.8M575.5 800.1V838.0M578.5 800.1V837.9M580.5 800.1V837.5M583.5 800.1V834.6M587.5 800.1V832.0M590.5 800.1V831.4M593.5 800.1V830.2M607.5 800.1V793.6M614.5 800.1V776.1M618.5 800.1V766.4M622.5 800.1V758.3M626.5 800.1V753.3M630.5 800.1V752.5M637.5 800.1V758.6M643.5 800.1V750.7" stroke="#868384" stroke-width="1.1" fill="none"/>
<path d="M142.5 800.1V772.5M150.5 800.1V776.0M153.5 800.1V779.7M157.5 800.1V785.0M159.5 800.1V788.1M164.5 800.1V798.0M169.5 800.1V807.0M171.5 800.1V811.2M177.5 800.1V822.9M180.5 800.1V828.0M196.5 800.1V822.5M201.5 800.1V805.8M203.5 800.1V798.1M207.5 800.1V772.2M214.5 800.1V743.1M229.5 800.1V700.7M237.5 800.1V776.4M273.5 800.1V833.5M275.5 800.1V839.1M277.5 800.1V841.5M286.5 800.1V824.6M291.5 800.1V808.3M300.5 800.1V785.0M311.5 800.1V784.8M320.5 800.1V789.2M336.5 800.1V803.9M344.5 800.1V812.3M357.5 800.1V810.4M359.5 800.1V809.4M371.5 800.1V788.4M392.5 800.1V776.9M395.5 800.1V775.5M402.5 800.1V770.2M407.5 800.1V766.6M438.5 800.1V770.3M450.5 800.1V781.9M460.5 800.1V792.0M462.5 800.1V793.8M482.5 800.1V812.2M485.5 800.1V813.9M494.5 800.1V818.7M496.5 800.1V820.1M527.5 800.1V809.2M531.5 800.1V808.8M537.5 800.1V811.7M546.5 800.1V819.0M550.5 800.1V820.8M556.5 800.1V826.5M559.5 800.1V830.7M569.5 800.1V839.6M585.5 800.1V832.8M598.5 800.1V823.3M603.5 800.1V802.7M610.5 800.1V785.6M633.5 800.1V756.2M641.5 800.1V753.0" stroke="#6c696a" stroke-width="1" fill="none"/>
<path d="M126.5 800.1V851.6M138.5 800.1V789.2M186.5 800.1V834.0M226.5 800.1V698.4M240.5 800.1V802.9M242.5 800.1V813.8M281.5 800.1V837.5M380.5 800.1V777.7M399.5 800.1V773.7M411.5 800.1V795.2M455.5 800.1V787.8M467.5 800.1V799.1M470.5 800.1V801.2M476.5 800.1V807.5M480.5 800.1V810.8M492.5 800.1V817.4M498.5 800.1V821.4M512.5 800.1V816.5M518.5 800.1V810.2M563.5 800.1V836.7" stroke="#3a3738" stroke-width="0.8" fill="none"/>
<path d="M213.1 153.4V133.4M233.7 153.4V92.9M380.5 153.4V134.6M413.7 153.4V53.9M465.5 153.4V117.4M544.6 153.4V138.9M614.5 153.4V131.4M158.6 153.4V161.2M271.6 153.4V183.9M299.9 153.4V180.7M347.9 153.4V180.8M434.3 153.4V197.9M508.2 153.4V182.7M565.9 153.4V179.9M213.1 369.4V350.1M233.7 369.4V304.7M380.5 369.4V354.4M413.7 369.4V264.3M465.5 369.4V330.4M544.6 369.4V361.5M614.5 369.4V351.4M158.6 369.4V376.7M271.6 369.4V397.8M299.9 369.4V400.7M347.9 369.4V402.0M434.3 369.4V412.0M508.2 369.4V388.5M565.9 369.4V399.2M213.1 585.2V580.6M233.7 585.2V539.1M380.5 585.2V563.9M413.7 585.2V479.7M465.5 585.2V552.4M544.6 585.2V557.5M614.5 585.2V557.0M158.6 585.2V586.7M271.6 585.2V628.6M299.9 585.2V613.8M347.9 585.2V608.4M434.3 585.2V632.7M508.2 585.2V612.9M565.9 585.2V614.6M213.1 800.1V747.9M233.7 800.1V738.9M380.5 800.1V778.6M413.7 800.1V805.9M465.5 800.1V797.8M544.6 800.1V816.9M614.5 800.1V777.0M158.6 800.1V787.6M271.6 800.1V825.7M299.9 800.1V786.3M347.9 800.1V811.2M434.3 800.1V774.6M508.2 800.1V818.1M565.9 800.1V838.2" stroke="#7c797a" stroke-width="1.8" fill="none"/>
<line x1="213.10" x2="213.10" y1="10.5" y2="872.9" stroke="#4c494a" stroke-width="1.05" stroke-dasharray="3.9 3.475" stroke-dashoffset="4.3"/>
<line x1="233.70" x2="233.70" y1="10.5" y2="872.9" stroke="#4c494a" stroke-width="1.05" stroke-dasharray="3.9 3.475" stroke-dashoffset="4.3"/>
<line x1="380.50" x2="380.50" y1="10.5" y2="872.9" stroke="#4c494a" stroke-width="1.05" stroke-dasharray="3.9 3.475" stroke-dashoffset="4.3"/>
<line x1="413.70" x2="413.70" y1="10.5" y2="872.9" stroke="#4c494a" stroke-width="1.05" stroke-dasharray="3.9 3.475" stroke-dashoffset="4.3"/>
<line x1="465.50" x2="465.50" y1="10.5" y2="872.9" stroke="#4c494a" stroke-width="1.05" stroke-dasharray="3.9 3.475" stroke-dashoffset="4.3"/>
<line x1="544.60" x2="544.60" y1="10.5" y2="872.9" stroke="#4c494a" stroke-width="1.05" stroke-dasharray="3.9 3.475" stroke-dashoffset="4.3"/>
<line x1="614.50" x2="614.50" y1="10.5" y2="872.9" stroke="#4c494a" stroke-width="1.05" stroke-dasharray="3.9 3.475" stroke-dashoffset="4.3"/>
<line x1="158.60" x2="158.60" y1="10.5" y2="872.9" stroke="#4c494a" stroke-width="1.05" stroke-dasharray="1.3 3.018" stroke-dashoffset="2.9"/>
<line x1="271.60" x2="271.60" y1="10.5" y2="872.9" stroke="#4c494a" stroke-width="1.05" stroke-dasharray="1.3 3.018" stroke-dashoffset="2.9"/>
<line x1="299.90" x2="299.90" y1="10.5" y2="872.9" stroke="#4c494a" stroke-width="1.05" stroke-dasharray="1.3 3.018" stroke-dashoffset="2.9"/>
<line x1="347.90" x2="347.90" y1="10.5" y2="872.9" stroke="#4c494a" stroke-width="1.05" stroke-dasharray="1.3 3.018" stroke-dashoffset="2.9"/>
<line x1="434.30" x2="434.30" y1="10.5" y2="872.9" stroke="#4c494a" stroke-width="1.05" stroke-dasharray="1.3 3.018" stroke-dashoffset="2.9"/>
<line x1="508.20" x2="508.20" y1="10.5" y2="872.9" stroke="#4c494a" stroke-width="1.05" stroke-dasharray="1.3 3.018" stroke-dashoffset="2.9"/>
<line x1="565.90" x2="565.90" y1="10.5" y2="872.9" stroke="#4c494a" stroke-width="1.05" stroke-dasharray="1.3 3.018" stroke-dashoffset="2.9"/>
<line x1="84.0" x2="684.0" y1="153.4" y2="153.4" stroke="#2e2b2c" stroke-width="1.1"/>
<line x1="84.0" x2="684.0" y1="369.4" y2="369.4" stroke="#2e2b2c" stroke-width="1.1"/>
<line x1="84.0" x2="684.0" y1="585.2" y2="585.2" stroke="#2e2b2c" stroke-width="1.1"/>
<line x1="84.0" x2="684.0" y1="800.1" y2="800.1" stroke="#2e2b2c" stroke-width="1.1"/>
<rect x="84.0" y="9.7" width="600.0" height="863.1999999999999" fill="none" stroke="#2e2b2c" stroke-width="1.5"/>
<line x1="84.0" x2="684.0" y1="225.5" y2="225.5" stroke="#2e2b2c" stroke-width="1.5"/>
<line x1="84.0" x2="684.0" y1="441.4" y2="441.4" stroke="#2e2b2c" stroke-width="1.5"/>
<line x1="84.0" x2="684.0" y1="657.0" y2="657.0" stroke="#2e2b2c" stroke-width="1.5"/>
<path d="M120.88 9.7v3.6M120.88 221.9v7.2M120.88 437.79999999999995v7.2M120.88 653.4v7.2M120.88 872.9v-3.6M158.50 9.7v7.0M158.50 218.5v14.0M158.50 434.4v14.0M158.50 650.0v14.0M158.50 872.9v-7.0M196.12 9.7v3.6M196.12 221.9v7.2M196.12 437.79999999999995v7.2M196.12 653.4v7.2M196.12 872.9v-3.6M233.74 9.7v3.6M233.74 221.9v7.2M233.74 437.79999999999995v7.2M233.74 653.4v7.2M233.74 872.9v-3.6M271.36 9.7v7.0M271.36 218.5v14.0M271.36 434.4v14.0M271.36 650.0v14.0M271.36 872.9v-7.0M308.98 9.7v3.6M308.98 221.9v7.2M308.98 437.79999999999995v7.2M308.98 653.4v7.2M308.98 872.9v-3.6M346.60 9.7v3.6M346.60 221.9v7.2M346.60 437.79999999999995v7.2M346.60 653.4v7.2M346.60 872.9v-3.6M384.22 9.7v7.0M384.22 218.5v14.0M384.22 434.4v14.0M384.22 650.0v14.0M384.22 872.9v-7.0M421.84 9.7v3.6M421.84 221.9v7.2M421.84 437.79999999999995v7.2M421.84 653.4v7.2M421.84 872.9v-3.6M459.46 9.7v3.6M459.46 221.9v7.2M459.46 437.79999999999995v7.2M459.46 653.4v7.2M459.46 872.9v-3.6M497.08 9.7v7.0M497.08 218.5v14.0M497.08 434.4v14.0M497.08 650.0v14.0M497.08 872.9v-7.0M534.70 9.7v3.6M534.70 221.9v7.2M534.70 437.79999999999995v7.2M534.70 653.4v7.2M534.70 872.9v-3.6M572.32 9.7v3.6M572.32 221.9v7.2M572.32 437.79999999999995v7.2M572.32 653.4v7.2M572.32 872.9v-3.6M609.94 9.7v7.0M609.94 218.5v14.0M609.94 434.4v14.0M609.94 650.0v14.0M609.94 872.9v-7.0M647.56 9.7v3.6M647.56 221.9v7.2M647.56 437.79999999999995v7.2M647.56 653.4v7.2M647.56 872.9v-3.6M84.0 45.63h3.6M684.0 45.63h-3.6M84.0 81.55h7.0M684.0 81.55h-7.0M84.0 117.47h3.6M684.0 117.47h-3.6M84.0 153.40h7.0M684.0 153.40h-7.0M84.0 189.33h3.6M684.0 189.33h-3.6M84.0 261.62h3.6M684.0 261.62h-3.6M84.0 297.55h7.0M684.0 297.55h-7.0M84.0 333.47h3.6M684.0 333.47h-3.6M84.0 369.40h7.0M684.0 369.40h-7.0M84.0 405.32h3.6M684.0 405.32h-3.6M84.0 477.43h3.6M684.0 477.43h-3.6M84.0 513.35h7.0M684.0 513.35h-7.0M84.0 549.28h3.6M684.0 549.28h-3.6M84.0 585.20h7.0M684.0 585.20h-7.0M84.0 621.12h3.6M684.0 621.12h-3.6M84.0 680.78h3.6M684.0 680.78h-3.6M84.0 720.55h7.0M684.0 720.55h-7.0M84.0 760.33h3.6M684.0 760.33h-3.6M84.0 800.10h7.0M684.0 800.10h-7.0M84.0 839.88h3.6M684.0 839.88h-3.6" stroke="#2e2b2c" stroke-width="1.25" fill="none"/>
<rect x="85.2" y="10.4" width="142.5" height="26.2" fill="#fff" stroke="#2e2b2c" stroke-width="1.3"/>
<text transform="translate(156.70 31.20) scale(0.911 1)" font-size="21" text-anchor="middle">H-Desiccation</text>
<rect x="85.2" y="226.6" width="147.4" height="24.0" fill="#fff" stroke="#2e2b2c" stroke-width="1.3"/>
<text transform="translate(160.20 246.70) scale(0.911 1)" font-size="21" text-anchor="middle">H-Rehydration</text>
<rect x="85.2" y="442.6" width="144.4" height="25.0" fill="#fff" stroke="#2e2b2c" stroke-width="1.3"/>
<text transform="translate(157.40 463.20) scale(0.911 1)" font-size="21" text-anchor="middle">D-Desiccation</text>
<rect x="85.6" y="659.2" width="150.0" height="24.8" fill="#fff" stroke="#2e2b2c" stroke-width="1.0"/>
<text transform="translate(161.50 679.20) scale(0.911 1)" font-size="21" text-anchor="middle">D-Rehydration</text>
<text transform="translate(76.60 14.20) scale(0.957 1)" font-size="20.1" text-anchor="end">0.2</text>
<text transform="translate(76.60 86.70) scale(0.957 1)" font-size="20.1" text-anchor="end">0.1</text>
<text transform="translate(76.60 158.50) scale(0.957 1)" font-size="20.1" text-anchor="end">0.0</text>
<text transform="translate(76.60 230.40) scale(0.957 1)" font-size="20.1" text-anchor="end">-0.1</text>
<text transform="translate(76.60 302.50) scale(0.957 1)" font-size="20.1" text-anchor="end">0.1</text>
<text transform="translate(76.60 374.50) scale(0.957 1)" font-size="20.1" text-anchor="end">0.0</text>
<text transform="translate(76.60 446.40) scale(0.957 1)" font-size="20.1" text-anchor="end">-0.1</text>
<text transform="translate(76.60 518.50) scale(0.957 1)" font-size="20.1" text-anchor="end">0.1</text>
<text transform="translate(76.60 590.50) scale(0.957 1)" font-size="20.1" text-anchor="end">0.0</text>
<text transform="translate(76.60 662.30) scale(0.957 1)" font-size="20.1" text-anchor="end">-0.1</text>
<text transform="translate(76.60 725.90) scale(0.957 1)" font-size="20.1" text-anchor="end">0.1</text>
<text transform="translate(76.60 805.40) scale(0.957 1)" font-size="20.1" text-anchor="end">0.0</text>
<text transform="translate(159.10 895.60) scale(0.945 1)" font-size="20.1" text-anchor="middle">1200</text>
<text transform="translate(271.96 895.60) scale(0.945 1)" font-size="20.1" text-anchor="middle">1500</text>
<text transform="translate(384.82 895.60) scale(0.945 1)" font-size="20.1" text-anchor="middle">1800</text>
<text transform="translate(497.68 895.60) scale(0.945 1)" font-size="20.1" text-anchor="middle">2100</text>
<text transform="translate(610.54 895.60) scale(0.945 1)" font-size="20.1" text-anchor="middle">2400</text>
<text transform="translate(384.40 919.40) scale(0.979 1)" font-size="19.9" text-anchor="middle">Wavelength [nm]</text>
<text transform="translate(14.90 438.70) rotate(-90) scale(0.975 1)" font-size="20.1" text-anchor="middle">PC1 loading [-]</text>
<text transform="translate(158.70 180.00) scale(0.912 1)" font-size="18.8" text-anchor="middle">1200</text>
<text transform="translate(201.90 124.50) scale(0.912 1)" font-size="21" text-anchor="middle">1344</text>
<text transform="translate(234.90 84.60) scale(0.912 1)" font-size="21" text-anchor="middle">1400</text>
<text transform="translate(259.50 205.80) scale(0.912 1)" font-size="21" text-anchor="middle">1500</text>
<text transform="translate(302.00 213.80) scale(0.912 1)" font-size="21" text-anchor="middle">1574</text>
<text transform="translate(348.50 202.40) scale(0.912 1)" font-size="21" text-anchor="middle">1704</text>
<text transform="translate(377.40 99.40) scale(0.912 1)" font-size="18.8" text-anchor="middle">1790</text>
<text transform="translate(414.70 45.60) scale(0.912 1)" font-size="21" text-anchor="middle">1880</text>
<text transform="translate(434.70 221.10) scale(0.912 1)" font-size="21" text-anchor="middle">1932</text>
<text transform="translate(465.30 109.00) scale(0.912 1)" font-size="21" text-anchor="middle">2016</text>
<text transform="translate(508.00 205.20) scale(0.912 1)" font-size="21" text-anchor="middle">2130</text>
<text transform="translate(544.00 130.20) scale(0.912 1)" font-size="21" text-anchor="middle">2226</text>
<text transform="translate(577.00 196.80) scale(0.912 1)" font-size="21" text-anchor="middle">2284</text>
<text transform="translate(615.00 122.80) scale(0.912 1)" font-size="21" text-anchor="middle">2414</text>
</svg>
</body></html>
